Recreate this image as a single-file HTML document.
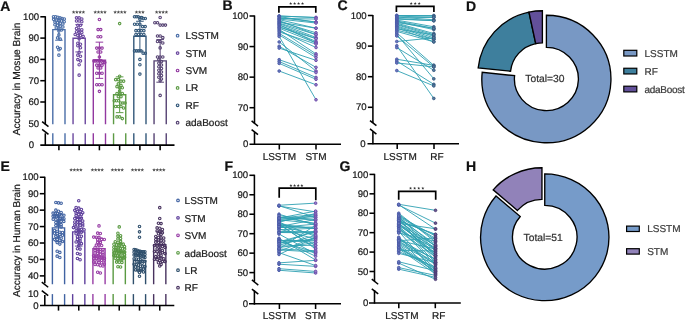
<!DOCTYPE html>
<html><head><meta charset="utf-8"><style>
html,body{margin:0;padding:0;background:#fff;width:685px;height:320px;overflow:hidden}
svg{display:block;font-family:"Liberation Sans", sans-serif;will-change:transform;text-rendering:geometricPrecision}
</style></head><body>
<svg xmlns="http://www.w3.org/2000/svg" width="685" height="320" viewBox="0 0 685 320">
<rect width="685" height="320" fill="#fff"/>
<text x="0.30" y="11.10" font-size="14" text-anchor="start" fill="#111" stroke="#111" stroke-width="0.22" font-weight="bold" >A</text>
<line x1="45.30" y1="16.20" x2="45.30" y2="124.30" stroke="#000" stroke-width="1.55" stroke-linecap="butt"/>
<line x1="45.30" y1="133.30" x2="45.30" y2="145.70" stroke="#000" stroke-width="1.55" stroke-linecap="butt"/>
<line x1="40.30" y1="16.80" x2="45.30" y2="16.80" stroke="#000" stroke-width="1.55" stroke-linecap="butt"/>
<text x="39.10" y="19.90" font-size="9.6" text-anchor="end" fill="#1a1a1a" stroke="#1a1a1a" stroke-width="0.22" font-weight="normal" >100</text>
<line x1="40.30" y1="38.10" x2="45.30" y2="38.10" stroke="#000" stroke-width="1.55" stroke-linecap="butt"/>
<text x="39.10" y="41.20" font-size="9.6" text-anchor="end" fill="#1a1a1a" stroke="#1a1a1a" stroke-width="0.22" font-weight="normal" >90</text>
<line x1="40.30" y1="59.40" x2="45.30" y2="59.40" stroke="#000" stroke-width="1.55" stroke-linecap="butt"/>
<text x="39.10" y="62.50" font-size="9.6" text-anchor="end" fill="#1a1a1a" stroke="#1a1a1a" stroke-width="0.22" font-weight="normal" >80</text>
<line x1="40.30" y1="80.70" x2="45.30" y2="80.70" stroke="#000" stroke-width="1.55" stroke-linecap="butt"/>
<text x="39.10" y="83.80" font-size="9.6" text-anchor="end" fill="#1a1a1a" stroke="#1a1a1a" stroke-width="0.22" font-weight="normal" >70</text>
<line x1="40.30" y1="102.00" x2="45.30" y2="102.00" stroke="#000" stroke-width="1.55" stroke-linecap="butt"/>
<text x="39.10" y="105.10" font-size="9.6" text-anchor="end" fill="#1a1a1a" stroke="#1a1a1a" stroke-width="0.22" font-weight="normal" >60</text>
<text x="39.10" y="126.60" font-size="9.6" text-anchor="end" fill="#1a1a1a" stroke="#1a1a1a" stroke-width="0.22" font-weight="normal" >50</text>
<text x="34.20" y="147.70" font-size="9.6" text-anchor="end" fill="#1a1a1a" stroke="#1a1a1a" stroke-width="0.22" font-weight="normal" >0</text>
<line x1="42.10" y1="121.55" x2="48.50" y2="126.65" stroke="#000" stroke-width="1.5" stroke-linecap="butt"/>
<line x1="42.10" y1="129.35" x2="48.50" y2="134.45" stroke="#000" stroke-width="1.5" stroke-linecap="butt"/>
<polyline points="52.80,124.30 52.80,29.58 65.00,29.58 65.00,124.30" fill="none" stroke="#4a6ea8" stroke-width="1.4"/>
<line x1="52.80" y1="133.30" x2="52.80" y2="145.10" stroke="#4a6ea8" stroke-width="1.4" stroke-linecap="butt"/>
<line x1="65.00" y1="133.30" x2="65.00" y2="145.10" stroke="#4a6ea8" stroke-width="1.4" stroke-linecap="butt"/>
<line x1="58.90" y1="18.93" x2="58.90" y2="40.23" stroke="#4a6ea8" stroke-width="1.0" stroke-linecap="butt"/>
<line x1="55.10" y1="18.93" x2="62.70" y2="18.93" stroke="#4a6ea8" stroke-width="1.0" stroke-linecap="butt"/>
<line x1="55.10" y1="40.23" x2="62.70" y2="40.23" stroke="#4a6ea8" stroke-width="1.0" stroke-linecap="butt"/>
<circle cx="53.50" cy="16.80" r="1.25" fill="none" stroke="#4a6ea8" stroke-width="1.1"/>
<circle cx="55.66" cy="16.80" r="1.25" fill="none" stroke="#4a6ea8" stroke-width="1.1"/>
<circle cx="57.82" cy="17.23" r="1.25" fill="none" stroke="#4a6ea8" stroke-width="1.1"/>
<circle cx="59.98" cy="17.87" r="1.25" fill="none" stroke="#4a6ea8" stroke-width="1.1"/>
<circle cx="62.14" cy="18.50" r="1.25" fill="none" stroke="#4a6ea8" stroke-width="1.1"/>
<circle cx="64.30" cy="18.93" r="1.25" fill="none" stroke="#4a6ea8" stroke-width="1.1"/>
<circle cx="53.60" cy="19.36" r="1.25" fill="none" stroke="#4a6ea8" stroke-width="1.1"/>
<circle cx="56.25" cy="20.00" r="1.25" fill="none" stroke="#4a6ea8" stroke-width="1.1"/>
<circle cx="58.90" cy="20.63" r="1.25" fill="none" stroke="#4a6ea8" stroke-width="1.1"/>
<circle cx="61.55" cy="21.06" r="1.25" fill="none" stroke="#4a6ea8" stroke-width="1.1"/>
<circle cx="64.20" cy="21.70" r="1.25" fill="none" stroke="#4a6ea8" stroke-width="1.1"/>
<circle cx="54.92" cy="22.12" r="1.25" fill="none" stroke="#4a6ea8" stroke-width="1.1"/>
<circle cx="57.57" cy="22.76" r="1.25" fill="none" stroke="#4a6ea8" stroke-width="1.1"/>
<circle cx="60.23" cy="23.19" r="1.25" fill="none" stroke="#4a6ea8" stroke-width="1.1"/>
<circle cx="62.88" cy="24.04" r="1.25" fill="none" stroke="#4a6ea8" stroke-width="1.1"/>
<circle cx="54.92" cy="24.68" r="1.25" fill="none" stroke="#4a6ea8" stroke-width="1.1"/>
<circle cx="57.57" cy="25.32" r="1.25" fill="none" stroke="#4a6ea8" stroke-width="1.1"/>
<circle cx="60.23" cy="26.17" r="1.25" fill="none" stroke="#4a6ea8" stroke-width="1.1"/>
<circle cx="62.88" cy="27.02" r="1.25" fill="none" stroke="#4a6ea8" stroke-width="1.1"/>
<circle cx="56.25" cy="27.88" r="1.25" fill="none" stroke="#4a6ea8" stroke-width="1.1"/>
<circle cx="58.90" cy="28.94" r="1.25" fill="none" stroke="#4a6ea8" stroke-width="1.1"/>
<circle cx="61.55" cy="30.01" r="1.25" fill="none" stroke="#4a6ea8" stroke-width="1.1"/>
<circle cx="58.90" cy="31.07" r="1.25" fill="none" stroke="#4a6ea8" stroke-width="1.1"/>
<circle cx="58.90" cy="34.91" r="1.25" fill="none" stroke="#4a6ea8" stroke-width="1.1"/>
<circle cx="57.57" cy="37.89" r="1.25" fill="none" stroke="#4a6ea8" stroke-width="1.1"/>
<circle cx="60.23" cy="39.16" r="1.25" fill="none" stroke="#4a6ea8" stroke-width="1.1"/>
<circle cx="57.57" cy="47.26" r="1.25" fill="none" stroke="#4a6ea8" stroke-width="1.1"/>
<circle cx="60.23" cy="48.54" r="1.25" fill="none" stroke="#4a6ea8" stroke-width="1.1"/>
<circle cx="58.90" cy="49.81" r="1.25" fill="none" stroke="#4a6ea8" stroke-width="1.1"/>
<circle cx="58.90" cy="55.14" r="1.25" fill="none" stroke="#4a6ea8" stroke-width="1.1"/>
<polyline points="73.05,124.30 73.05,38.31 85.25,38.31 85.25,124.30" fill="none" stroke="#6a479e" stroke-width="1.4"/>
<line x1="73.05" y1="133.30" x2="73.05" y2="145.10" stroke="#6a479e" stroke-width="1.4" stroke-linecap="butt"/>
<line x1="85.25" y1="133.30" x2="85.25" y2="145.10" stroke="#6a479e" stroke-width="1.4" stroke-linecap="butt"/>
<line x1="79.15" y1="24.68" x2="79.15" y2="51.94" stroke="#6a479e" stroke-width="1.0" stroke-linecap="butt"/>
<line x1="75.35" y1="24.68" x2="82.95" y2="24.68" stroke="#6a479e" stroke-width="1.0" stroke-linecap="butt"/>
<line x1="75.35" y1="51.94" x2="82.95" y2="51.94" stroke="#6a479e" stroke-width="1.0" stroke-linecap="butt"/>
<circle cx="76.50" cy="17.87" r="1.25" fill="none" stroke="#6a479e" stroke-width="1.1"/>
<circle cx="79.15" cy="17.87" r="1.25" fill="none" stroke="#6a479e" stroke-width="1.1"/>
<circle cx="81.80" cy="18.93" r="1.25" fill="none" stroke="#6a479e" stroke-width="1.1"/>
<circle cx="76.50" cy="21.06" r="1.25" fill="none" stroke="#6a479e" stroke-width="1.1"/>
<circle cx="79.15" cy="21.06" r="1.25" fill="none" stroke="#6a479e" stroke-width="1.1"/>
<circle cx="81.80" cy="21.70" r="1.25" fill="none" stroke="#6a479e" stroke-width="1.1"/>
<circle cx="77.83" cy="25.32" r="1.25" fill="none" stroke="#6a479e" stroke-width="1.1"/>
<circle cx="80.48" cy="25.32" r="1.25" fill="none" stroke="#6a479e" stroke-width="1.1"/>
<circle cx="76.50" cy="28.52" r="1.25" fill="none" stroke="#6a479e" stroke-width="1.1"/>
<circle cx="79.15" cy="29.79" r="1.25" fill="none" stroke="#6a479e" stroke-width="1.1"/>
<circle cx="81.80" cy="29.79" r="1.25" fill="none" stroke="#6a479e" stroke-width="1.1"/>
<circle cx="76.50" cy="31.71" r="1.25" fill="none" stroke="#6a479e" stroke-width="1.1"/>
<circle cx="79.15" cy="32.56" r="1.25" fill="none" stroke="#6a479e" stroke-width="1.1"/>
<circle cx="81.80" cy="32.56" r="1.25" fill="none" stroke="#6a479e" stroke-width="1.1"/>
<circle cx="75.18" cy="34.48" r="1.25" fill="none" stroke="#6a479e" stroke-width="1.1"/>
<circle cx="77.83" cy="35.54" r="1.25" fill="none" stroke="#6a479e" stroke-width="1.1"/>
<circle cx="80.48" cy="35.54" r="1.25" fill="none" stroke="#6a479e" stroke-width="1.1"/>
<circle cx="83.12" cy="36.40" r="1.25" fill="none" stroke="#6a479e" stroke-width="1.1"/>
<circle cx="79.15" cy="38.74" r="1.25" fill="none" stroke="#6a479e" stroke-width="1.1"/>
<circle cx="77.83" cy="43.21" r="1.25" fill="none" stroke="#6a479e" stroke-width="1.1"/>
<circle cx="80.48" cy="44.28" r="1.25" fill="none" stroke="#6a479e" stroke-width="1.1"/>
<circle cx="77.83" cy="45.77" r="1.25" fill="none" stroke="#6a479e" stroke-width="1.1"/>
<circle cx="80.48" cy="47.69" r="1.25" fill="none" stroke="#6a479e" stroke-width="1.1"/>
<circle cx="79.15" cy="52.58" r="1.25" fill="none" stroke="#6a479e" stroke-width="1.1"/>
<circle cx="77.83" cy="55.14" r="1.25" fill="none" stroke="#6a479e" stroke-width="1.1"/>
<circle cx="80.48" cy="56.20" r="1.25" fill="none" stroke="#6a479e" stroke-width="1.1"/>
<circle cx="77.83" cy="59.61" r="1.25" fill="none" stroke="#6a479e" stroke-width="1.1"/>
<circle cx="80.48" cy="60.89" r="1.25" fill="none" stroke="#6a479e" stroke-width="1.1"/>
<circle cx="79.15" cy="64.72" r="1.25" fill="none" stroke="#6a479e" stroke-width="1.1"/>
<circle cx="79.15" cy="75.16" r="1.25" fill="none" stroke="#6a479e" stroke-width="1.1"/>
<polyline points="93.30,124.30 93.30,60.25 105.50,60.25 105.50,124.30" fill="none" stroke="#9238a0" stroke-width="1.4"/>
<line x1="93.30" y1="133.30" x2="93.30" y2="145.10" stroke="#9238a0" stroke-width="1.4" stroke-linecap="butt"/>
<line x1="105.50" y1="133.30" x2="105.50" y2="145.10" stroke="#9238a0" stroke-width="1.4" stroke-linecap="butt"/>
<line x1="99.40" y1="42.15" x2="99.40" y2="78.36" stroke="#9238a0" stroke-width="1.0" stroke-linecap="butt"/>
<line x1="95.60" y1="42.15" x2="103.20" y2="42.15" stroke="#9238a0" stroke-width="1.0" stroke-linecap="butt"/>
<line x1="95.60" y1="78.36" x2="103.20" y2="78.36" stroke="#9238a0" stroke-width="1.0" stroke-linecap="butt"/>
<circle cx="99.40" cy="19.57" r="1.25" fill="none" stroke="#9238a0" stroke-width="1.1"/>
<circle cx="98.08" cy="29.58" r="1.25" fill="none" stroke="#9238a0" stroke-width="1.1"/>
<circle cx="100.73" cy="29.58" r="1.25" fill="none" stroke="#9238a0" stroke-width="1.1"/>
<circle cx="98.08" cy="36.82" r="1.25" fill="none" stroke="#9238a0" stroke-width="1.1"/>
<circle cx="100.73" cy="36.82" r="1.25" fill="none" stroke="#9238a0" stroke-width="1.1"/>
<circle cx="96.75" cy="48.11" r="1.25" fill="none" stroke="#9238a0" stroke-width="1.1"/>
<circle cx="99.40" cy="48.11" r="1.25" fill="none" stroke="#9238a0" stroke-width="1.1"/>
<circle cx="102.05" cy="48.11" r="1.25" fill="none" stroke="#9238a0" stroke-width="1.1"/>
<circle cx="98.08" cy="51.94" r="1.25" fill="none" stroke="#9238a0" stroke-width="1.1"/>
<circle cx="100.73" cy="51.94" r="1.25" fill="none" stroke="#9238a0" stroke-width="1.1"/>
<circle cx="99.40" cy="57.06" r="1.25" fill="none" stroke="#9238a0" stroke-width="1.1"/>
<circle cx="94.00" cy="60.89" r="1.25" fill="none" stroke="#9238a0" stroke-width="1.1"/>
<circle cx="95.80" cy="60.89" r="1.25" fill="none" stroke="#9238a0" stroke-width="1.1"/>
<circle cx="97.60" cy="60.89" r="1.25" fill="none" stroke="#9238a0" stroke-width="1.1"/>
<circle cx="99.40" cy="60.89" r="1.25" fill="none" stroke="#9238a0" stroke-width="1.1"/>
<circle cx="101.20" cy="60.89" r="1.25" fill="none" stroke="#9238a0" stroke-width="1.1"/>
<circle cx="103.00" cy="62.59" r="1.25" fill="none" stroke="#9238a0" stroke-width="1.1"/>
<circle cx="104.80" cy="62.59" r="1.25" fill="none" stroke="#9238a0" stroke-width="1.1"/>
<circle cx="96.75" cy="65.15" r="1.25" fill="none" stroke="#9238a0" stroke-width="1.1"/>
<circle cx="99.40" cy="65.15" r="1.25" fill="none" stroke="#9238a0" stroke-width="1.1"/>
<circle cx="102.05" cy="65.15" r="1.25" fill="none" stroke="#9238a0" stroke-width="1.1"/>
<circle cx="98.08" cy="67.92" r="1.25" fill="none" stroke="#9238a0" stroke-width="1.1"/>
<circle cx="100.73" cy="67.92" r="1.25" fill="none" stroke="#9238a0" stroke-width="1.1"/>
<circle cx="96.75" cy="73.25" r="1.25" fill="none" stroke="#9238a0" stroke-width="1.1"/>
<circle cx="99.40" cy="73.25" r="1.25" fill="none" stroke="#9238a0" stroke-width="1.1"/>
<circle cx="102.05" cy="73.25" r="1.25" fill="none" stroke="#9238a0" stroke-width="1.1"/>
<circle cx="96.75" cy="84.75" r="1.25" fill="none" stroke="#9238a0" stroke-width="1.1"/>
<circle cx="99.40" cy="84.75" r="1.25" fill="none" stroke="#9238a0" stroke-width="1.1"/>
<circle cx="102.05" cy="84.75" r="1.25" fill="none" stroke="#9238a0" stroke-width="1.1"/>
<circle cx="99.40" cy="91.35" r="1.25" fill="none" stroke="#9238a0" stroke-width="1.1"/>
<polyline points="113.55,124.30 113.55,94.76 125.75,94.76 125.75,124.30" fill="none" stroke="#5c9a44" stroke-width="1.4"/>
<line x1="113.55" y1="133.30" x2="113.55" y2="145.10" stroke="#5c9a44" stroke-width="1.4" stroke-linecap="butt"/>
<line x1="125.75" y1="133.30" x2="125.75" y2="145.10" stroke="#5c9a44" stroke-width="1.4" stroke-linecap="butt"/>
<line x1="119.65" y1="76.87" x2="119.65" y2="112.65" stroke="#5c9a44" stroke-width="1.0" stroke-linecap="butt"/>
<line x1="115.85" y1="76.87" x2="123.45" y2="76.87" stroke="#5c9a44" stroke-width="1.0" stroke-linecap="butt"/>
<line x1="115.85" y1="112.65" x2="123.45" y2="112.65" stroke="#5c9a44" stroke-width="1.0" stroke-linecap="butt"/>
<circle cx="119.65" cy="23.62" r="1.25" fill="none" stroke="#5c9a44" stroke-width="1.1"/>
<circle cx="119.65" cy="76.23" r="1.25" fill="none" stroke="#5c9a44" stroke-width="1.1"/>
<circle cx="115.68" cy="79.63" r="1.25" fill="none" stroke="#5c9a44" stroke-width="1.1"/>
<circle cx="118.33" cy="79.63" r="1.25" fill="none" stroke="#5c9a44" stroke-width="1.1"/>
<circle cx="120.98" cy="81.13" r="1.25" fill="none" stroke="#5c9a44" stroke-width="1.1"/>
<circle cx="123.62" cy="81.13" r="1.25" fill="none" stroke="#5c9a44" stroke-width="1.1"/>
<circle cx="118.33" cy="83.89" r="1.25" fill="none" stroke="#5c9a44" stroke-width="1.1"/>
<circle cx="120.98" cy="85.39" r="1.25" fill="none" stroke="#5c9a44" stroke-width="1.1"/>
<circle cx="117.00" cy="86.66" r="1.25" fill="none" stroke="#5c9a44" stroke-width="1.1"/>
<circle cx="119.65" cy="87.73" r="1.25" fill="none" stroke="#5c9a44" stroke-width="1.1"/>
<circle cx="122.30" cy="87.73" r="1.25" fill="none" stroke="#5c9a44" stroke-width="1.1"/>
<circle cx="119.65" cy="90.92" r="1.25" fill="none" stroke="#5c9a44" stroke-width="1.1"/>
<circle cx="117.00" cy="93.48" r="1.25" fill="none" stroke="#5c9a44" stroke-width="1.1"/>
<circle cx="119.65" cy="93.48" r="1.25" fill="none" stroke="#5c9a44" stroke-width="1.1"/>
<circle cx="122.30" cy="93.48" r="1.25" fill="none" stroke="#5c9a44" stroke-width="1.1"/>
<circle cx="118.33" cy="96.67" r="1.25" fill="none" stroke="#5c9a44" stroke-width="1.1"/>
<circle cx="120.98" cy="96.67" r="1.25" fill="none" stroke="#5c9a44" stroke-width="1.1"/>
<circle cx="114.25" cy="100.72" r="1.25" fill="none" stroke="#5c9a44" stroke-width="1.1"/>
<circle cx="116.41" cy="100.72" r="1.25" fill="none" stroke="#5c9a44" stroke-width="1.1"/>
<circle cx="118.57" cy="100.72" r="1.25" fill="none" stroke="#5c9a44" stroke-width="1.1"/>
<circle cx="120.73" cy="103.06" r="1.25" fill="none" stroke="#5c9a44" stroke-width="1.1"/>
<circle cx="122.89" cy="103.06" r="1.25" fill="none" stroke="#5c9a44" stroke-width="1.1"/>
<circle cx="125.05" cy="103.06" r="1.25" fill="none" stroke="#5c9a44" stroke-width="1.1"/>
<circle cx="115.68" cy="106.47" r="1.25" fill="none" stroke="#5c9a44" stroke-width="1.1"/>
<circle cx="118.33" cy="106.47" r="1.25" fill="none" stroke="#5c9a44" stroke-width="1.1"/>
<circle cx="120.98" cy="106.47" r="1.25" fill="none" stroke="#5c9a44" stroke-width="1.1"/>
<circle cx="123.62" cy="107.96" r="1.25" fill="none" stroke="#5c9a44" stroke-width="1.1"/>
<circle cx="117.00" cy="116.91" r="1.25" fill="none" stroke="#5c9a44" stroke-width="1.1"/>
<circle cx="119.65" cy="116.91" r="1.25" fill="none" stroke="#5c9a44" stroke-width="1.1"/>
<circle cx="122.30" cy="118.61" r="1.25" fill="none" stroke="#5c9a44" stroke-width="1.1"/>
<polyline points="133.80,124.30 133.80,36.18 146.00,36.18 146.00,124.30" fill="none" stroke="#33587a" stroke-width="1.4"/>
<line x1="133.80" y1="133.30" x2="133.80" y2="145.10" stroke="#33587a" stroke-width="1.4" stroke-linecap="butt"/>
<line x1="146.00" y1="133.30" x2="146.00" y2="145.10" stroke="#33587a" stroke-width="1.4" stroke-linecap="butt"/>
<line x1="139.90" y1="21.27" x2="139.90" y2="51.09" stroke="#33587a" stroke-width="1.0" stroke-linecap="butt"/>
<line x1="136.10" y1="21.27" x2="143.70" y2="21.27" stroke="#33587a" stroke-width="1.0" stroke-linecap="butt"/>
<line x1="136.10" y1="51.09" x2="143.70" y2="51.09" stroke="#33587a" stroke-width="1.0" stroke-linecap="butt"/>
<circle cx="134.50" cy="16.80" r="1.25" fill="none" stroke="#33587a" stroke-width="1.1"/>
<circle cx="136.30" cy="16.80" r="1.25" fill="none" stroke="#33587a" stroke-width="1.1"/>
<circle cx="138.10" cy="16.80" r="1.25" fill="none" stroke="#33587a" stroke-width="1.1"/>
<circle cx="139.90" cy="17.65" r="1.25" fill="none" stroke="#33587a" stroke-width="1.1"/>
<circle cx="141.70" cy="17.65" r="1.25" fill="none" stroke="#33587a" stroke-width="1.1"/>
<circle cx="143.50" cy="18.50" r="1.25" fill="none" stroke="#33587a" stroke-width="1.1"/>
<circle cx="145.30" cy="18.50" r="1.25" fill="none" stroke="#33587a" stroke-width="1.1"/>
<circle cx="139.90" cy="19.36" r="1.25" fill="none" stroke="#33587a" stroke-width="1.1"/>
<circle cx="134.60" cy="24.26" r="1.25" fill="none" stroke="#33587a" stroke-width="1.1"/>
<circle cx="137.25" cy="24.26" r="1.25" fill="none" stroke="#33587a" stroke-width="1.1"/>
<circle cx="139.90" cy="24.26" r="1.25" fill="none" stroke="#33587a" stroke-width="1.1"/>
<circle cx="142.55" cy="26.60" r="1.25" fill="none" stroke="#33587a" stroke-width="1.1"/>
<circle cx="145.20" cy="26.60" r="1.25" fill="none" stroke="#33587a" stroke-width="1.1"/>
<circle cx="135.93" cy="30.64" r="1.25" fill="none" stroke="#33587a" stroke-width="1.1"/>
<circle cx="138.58" cy="30.64" r="1.25" fill="none" stroke="#33587a" stroke-width="1.1"/>
<circle cx="141.22" cy="30.64" r="1.25" fill="none" stroke="#33587a" stroke-width="1.1"/>
<circle cx="143.88" cy="30.64" r="1.25" fill="none" stroke="#33587a" stroke-width="1.1"/>
<circle cx="135.93" cy="34.48" r="1.25" fill="none" stroke="#33587a" stroke-width="1.1"/>
<circle cx="138.58" cy="34.48" r="1.25" fill="none" stroke="#33587a" stroke-width="1.1"/>
<circle cx="141.22" cy="34.48" r="1.25" fill="none" stroke="#33587a" stroke-width="1.1"/>
<circle cx="143.88" cy="34.48" r="1.25" fill="none" stroke="#33587a" stroke-width="1.1"/>
<circle cx="134.50" cy="50.88" r="1.25" fill="none" stroke="#33587a" stroke-width="1.1"/>
<circle cx="136.66" cy="50.88" r="1.25" fill="none" stroke="#33587a" stroke-width="1.1"/>
<circle cx="138.82" cy="50.88" r="1.25" fill="none" stroke="#33587a" stroke-width="1.1"/>
<circle cx="140.98" cy="50.88" r="1.25" fill="none" stroke="#33587a" stroke-width="1.1"/>
<circle cx="143.14" cy="53.22" r="1.25" fill="none" stroke="#33587a" stroke-width="1.1"/>
<circle cx="145.30" cy="53.22" r="1.25" fill="none" stroke="#33587a" stroke-width="1.1"/>
<circle cx="139.90" cy="59.40" r="1.25" fill="none" stroke="#33587a" stroke-width="1.1"/>
<circle cx="139.90" cy="64.72" r="1.25" fill="none" stroke="#33587a" stroke-width="1.1"/>
<circle cx="139.90" cy="74.10" r="1.25" fill="none" stroke="#33587a" stroke-width="1.1"/>
<polyline points="154.05,124.30 154.05,60.89 166.25,60.89 166.25,124.30" fill="none" stroke="#564373" stroke-width="1.4"/>
<line x1="154.05" y1="133.30" x2="154.05" y2="145.10" stroke="#564373" stroke-width="1.4" stroke-linecap="butt"/>
<line x1="166.25" y1="133.30" x2="166.25" y2="145.10" stroke="#564373" stroke-width="1.4" stroke-linecap="butt"/>
<line x1="160.15" y1="39.59" x2="160.15" y2="82.19" stroke="#564373" stroke-width="1.0" stroke-linecap="butt"/>
<line x1="156.35" y1="39.59" x2="163.95" y2="39.59" stroke="#564373" stroke-width="1.0" stroke-linecap="butt"/>
<line x1="156.35" y1="82.19" x2="163.95" y2="82.19" stroke="#564373" stroke-width="1.0" stroke-linecap="butt"/>
<circle cx="160.15" cy="17.44" r="1.25" fill="none" stroke="#564373" stroke-width="1.1"/>
<circle cx="154.85" cy="22.76" r="1.25" fill="none" stroke="#564373" stroke-width="1.1"/>
<circle cx="157.50" cy="22.76" r="1.25" fill="none" stroke="#564373" stroke-width="1.1"/>
<circle cx="160.15" cy="25.11" r="1.25" fill="none" stroke="#564373" stroke-width="1.1"/>
<circle cx="162.80" cy="25.11" r="1.25" fill="none" stroke="#564373" stroke-width="1.1"/>
<circle cx="165.45" cy="25.11" r="1.25" fill="none" stroke="#564373" stroke-width="1.1"/>
<circle cx="157.50" cy="35.97" r="1.25" fill="none" stroke="#564373" stroke-width="1.1"/>
<circle cx="160.15" cy="35.97" r="1.25" fill="none" stroke="#564373" stroke-width="1.1"/>
<circle cx="162.80" cy="37.67" r="1.25" fill="none" stroke="#564373" stroke-width="1.1"/>
<circle cx="157.50" cy="41.51" r="1.25" fill="none" stroke="#564373" stroke-width="1.1"/>
<circle cx="160.15" cy="41.51" r="1.25" fill="none" stroke="#564373" stroke-width="1.1"/>
<circle cx="162.80" cy="43.00" r="1.25" fill="none" stroke="#564373" stroke-width="1.1"/>
<circle cx="160.15" cy="47.90" r="1.25" fill="none" stroke="#564373" stroke-width="1.1"/>
<circle cx="157.50" cy="57.06" r="1.25" fill="none" stroke="#564373" stroke-width="1.1"/>
<circle cx="160.15" cy="57.06" r="1.25" fill="none" stroke="#564373" stroke-width="1.1"/>
<circle cx="162.80" cy="57.06" r="1.25" fill="none" stroke="#564373" stroke-width="1.1"/>
<circle cx="158.83" cy="59.83" r="1.25" fill="none" stroke="#564373" stroke-width="1.1"/>
<circle cx="161.47" cy="61.57" r="1.25" fill="none" stroke="#564373" stroke-width="1.1"/>
<circle cx="158.83" cy="63.31" r="1.25" fill="none" stroke="#564373" stroke-width="1.1"/>
<circle cx="161.47" cy="65.04" r="1.25" fill="none" stroke="#564373" stroke-width="1.1"/>
<circle cx="158.83" cy="66.78" r="1.25" fill="none" stroke="#564373" stroke-width="1.1"/>
<circle cx="161.47" cy="68.52" r="1.25" fill="none" stroke="#564373" stroke-width="1.1"/>
<circle cx="158.83" cy="70.26" r="1.25" fill="none" stroke="#564373" stroke-width="1.1"/>
<circle cx="161.47" cy="72.00" r="1.25" fill="none" stroke="#564373" stroke-width="1.1"/>
<circle cx="158.83" cy="73.74" r="1.25" fill="none" stroke="#564373" stroke-width="1.1"/>
<circle cx="161.47" cy="75.48" r="1.25" fill="none" stroke="#564373" stroke-width="1.1"/>
<circle cx="158.83" cy="77.22" r="1.25" fill="none" stroke="#564373" stroke-width="1.1"/>
<circle cx="161.47" cy="78.96" r="1.25" fill="none" stroke="#564373" stroke-width="1.1"/>
<circle cx="160.15" cy="80.70" r="1.25" fill="none" stroke="#564373" stroke-width="1.1"/>
<circle cx="160.15" cy="95.40" r="1.25" fill="none" stroke="#564373" stroke-width="1.1"/>
<line x1="40.30" y1="145.10" x2="174.50" y2="145.10" stroke="#000" stroke-width="1.55" stroke-linecap="butt"/>
<line x1="58.90" y1="145.10" x2="58.90" y2="150.30" stroke="#000" stroke-width="1.55" stroke-linecap="butt"/>
<line x1="79.15" y1="145.10" x2="79.15" y2="150.30" stroke="#000" stroke-width="1.55" stroke-linecap="butt"/>
<line x1="99.40" y1="145.10" x2="99.40" y2="150.30" stroke="#000" stroke-width="1.55" stroke-linecap="butt"/>
<line x1="119.65" y1="145.10" x2="119.65" y2="150.30" stroke="#000" stroke-width="1.55" stroke-linecap="butt"/>
<line x1="139.90" y1="145.10" x2="139.90" y2="150.30" stroke="#000" stroke-width="1.55" stroke-linecap="butt"/>
<line x1="160.15" y1="145.10" x2="160.15" y2="150.30" stroke="#000" stroke-width="1.55" stroke-linecap="butt"/>
<polygon points="73.62,10.20 74.12,11.46 75.48,11.55 74.43,12.41 74.77,13.73 73.62,13.00 72.48,13.73 72.82,12.41 71.77,11.55 73.13,11.46" fill="#505050"/>
<polygon points="76.88,10.20 77.37,11.46 78.73,11.55 77.68,12.41 78.02,13.73 76.88,13.00 75.73,13.73 76.07,12.41 75.02,11.55 76.38,11.46" fill="#505050"/>
<polygon points="80.12,10.20 80.62,11.46 81.98,11.55 80.93,12.41 81.27,13.73 80.12,13.00 78.98,13.73 79.32,12.41 78.27,11.55 79.63,11.46" fill="#505050"/>
<polygon points="83.38,10.20 83.87,11.46 85.23,11.55 84.18,12.41 84.52,13.73 83.38,13.00 82.23,13.73 82.57,12.41 81.52,11.55 82.88,11.46" fill="#505050"/>
<polygon points="95.22,10.20 95.72,11.46 97.08,11.55 96.03,12.41 96.37,13.73 95.22,13.00 94.08,13.73 94.42,12.41 93.37,11.55 94.73,11.46" fill="#505050"/>
<polygon points="98.47,10.20 98.97,11.46 100.33,11.55 99.28,12.41 99.62,13.73 98.47,13.00 97.33,13.73 97.67,12.41 96.62,11.55 97.98,11.46" fill="#505050"/>
<polygon points="101.72,10.20 102.22,11.46 103.58,11.55 102.53,12.41 102.87,13.73 101.72,13.00 100.58,13.73 100.92,12.41 99.87,11.55 101.23,11.46" fill="#505050"/>
<polygon points="104.97,10.20 105.47,11.46 106.83,11.55 105.78,12.41 106.12,13.73 104.97,13.00 103.83,13.73 104.17,12.41 103.12,11.55 104.48,11.46" fill="#505050"/>
<polygon points="115.12,10.20 115.62,11.46 116.98,11.55 115.93,12.41 116.27,13.73 115.12,13.00 113.98,13.73 114.32,12.41 113.27,11.55 114.63,11.46" fill="#505050"/>
<polygon points="118.38,10.20 118.87,11.46 120.23,11.55 119.18,12.41 119.52,13.73 118.38,13.00 117.23,13.73 117.57,12.41 116.52,11.55 117.88,11.46" fill="#505050"/>
<polygon points="121.62,10.20 122.12,11.46 123.48,11.55 122.43,12.41 122.77,13.73 121.62,13.00 120.48,13.73 120.82,12.41 119.77,11.55 121.13,11.46" fill="#505050"/>
<polygon points="124.88,10.20 125.37,11.46 126.73,11.55 125.68,12.41 126.02,13.73 124.88,13.00 123.73,13.73 124.07,12.41 123.02,11.55 124.38,11.46" fill="#505050"/>
<polygon points="136.45,10.20 136.95,11.46 138.30,11.55 137.26,12.41 137.60,13.73 136.45,13.00 135.30,13.73 135.64,12.41 134.60,11.55 135.95,11.46" fill="#505050"/>
<polygon points="139.70,10.20 140.20,11.46 141.55,11.55 140.51,12.41 140.85,13.73 139.70,13.00 138.55,13.73 138.89,12.41 137.85,11.55 139.20,11.46" fill="#505050"/>
<polygon points="142.95,10.20 143.45,11.46 144.80,11.55 143.76,12.41 144.10,13.73 142.95,13.00 141.80,13.73 142.14,12.41 141.10,11.55 142.45,11.46" fill="#505050"/>
<polygon points="156.62,10.20 157.12,11.46 158.48,11.55 157.43,12.41 157.77,13.73 156.62,13.00 155.48,13.73 155.82,12.41 154.77,11.55 156.13,11.46" fill="#505050"/>
<polygon points="159.88,10.20 160.37,11.46 161.73,11.55 160.68,12.41 161.02,13.73 159.88,13.00 158.73,13.73 159.07,12.41 158.02,11.55 159.38,11.46" fill="#505050"/>
<polygon points="163.12,10.20 163.62,11.46 164.98,11.55 163.93,12.41 164.27,13.73 163.12,13.00 161.98,13.73 162.32,12.41 161.27,11.55 162.63,11.46" fill="#505050"/>
<polygon points="166.38,10.20 166.87,11.46 168.23,11.55 167.18,12.41 167.52,13.73 166.38,13.00 165.23,13.73 165.57,12.41 164.52,11.55 165.88,11.46" fill="#505050"/>
<circle cx="177.60" cy="35.70" r="1.3" fill="none" stroke="#4a6ea8" stroke-width="1.15"/>
<text x="185.50" y="39.20" font-size="10" text-anchor="start" fill="#1a1a1a" stroke="#1a1a1a" stroke-width="0.22" font-weight="normal" >LSSTM</text>
<circle cx="177.60" cy="53.10" r="1.3" fill="none" stroke="#6a479e" stroke-width="1.15"/>
<text x="185.50" y="56.60" font-size="10" text-anchor="start" fill="#1a1a1a" stroke="#1a1a1a" stroke-width="0.22" font-weight="normal" >STM</text>
<circle cx="177.60" cy="70.50" r="1.3" fill="none" stroke="#9238a0" stroke-width="1.15"/>
<text x="185.50" y="74.00" font-size="10" text-anchor="start" fill="#1a1a1a" stroke="#1a1a1a" stroke-width="0.22" font-weight="normal" >SVM</text>
<circle cx="177.60" cy="87.90" r="1.3" fill="none" stroke="#5c9a44" stroke-width="1.15"/>
<text x="185.50" y="91.40" font-size="10" text-anchor="start" fill="#1a1a1a" stroke="#1a1a1a" stroke-width="0.22" font-weight="normal" >LR</text>
<circle cx="177.60" cy="105.30" r="1.3" fill="none" stroke="#33587a" stroke-width="1.15"/>
<text x="185.50" y="108.80" font-size="10" text-anchor="start" fill="#1a1a1a" stroke="#1a1a1a" stroke-width="0.22" font-weight="normal" >RF</text>
<circle cx="177.60" cy="122.70" r="1.3" fill="none" stroke="#564373" stroke-width="1.15"/>
<text x="185.50" y="126.20" font-size="10" text-anchor="start" fill="#1a1a1a" stroke="#1a1a1a" stroke-width="0.22" font-weight="normal" >adaBoost</text>
<text x="19.60" y="79.00" font-size="10.2" text-anchor="middle" fill="#1a1a1a" stroke="#1a1a1a" stroke-width="0.22" font-weight="normal" transform="rotate(-90 19.6 79)">Accuracy in Mosue Brain</text>
<text x="222.40" y="10.00" font-size="14" text-anchor="start" fill="#111" stroke="#111" stroke-width="0.22" font-weight="bold" >B</text>
<line x1="254.50" y1="15.40" x2="254.50" y2="123.40" stroke="#000" stroke-width="1.55" stroke-linecap="butt"/>
<line x1="254.50" y1="132.20" x2="254.50" y2="144.90" stroke="#000" stroke-width="1.55" stroke-linecap="butt"/>
<line x1="249.50" y1="16.00" x2="254.50" y2="16.00" stroke="#000" stroke-width="1.55" stroke-linecap="butt"/>
<text x="248.30" y="19.10" font-size="9.6" text-anchor="end" fill="#1a1a1a" stroke="#1a1a1a" stroke-width="0.22" font-weight="normal" >100</text>
<line x1="249.50" y1="46.57" x2="254.50" y2="46.57" stroke="#000" stroke-width="1.55" stroke-linecap="butt"/>
<text x="248.30" y="49.67" font-size="9.6" text-anchor="end" fill="#1a1a1a" stroke="#1a1a1a" stroke-width="0.22" font-weight="normal" >90</text>
<line x1="249.50" y1="77.14" x2="254.50" y2="77.14" stroke="#000" stroke-width="1.55" stroke-linecap="butt"/>
<text x="248.30" y="80.24" font-size="9.6" text-anchor="end" fill="#1a1a1a" stroke="#1a1a1a" stroke-width="0.22" font-weight="normal" >80</text>
<line x1="249.50" y1="107.71" x2="254.50" y2="107.71" stroke="#000" stroke-width="1.55" stroke-linecap="butt"/>
<text x="248.30" y="110.81" font-size="9.6" text-anchor="end" fill="#1a1a1a" stroke="#1a1a1a" stroke-width="0.22" font-weight="normal" >70</text>
<text x="248.30" y="147.40" font-size="9.6" text-anchor="end" fill="#1a1a1a" stroke="#1a1a1a" stroke-width="0.22" font-weight="normal" >0</text>
<line x1="251.60" y1="120.95" x2="258.00" y2="126.05" stroke="#000" stroke-width="1.5" stroke-linecap="butt"/>
<line x1="251.60" y1="129.55" x2="258.00" y2="134.65" stroke="#000" stroke-width="1.5" stroke-linecap="butt"/>
<line x1="249.50" y1="144.30" x2="341.00" y2="144.30" stroke="#000" stroke-width="1.55" stroke-linecap="butt"/>
<line x1="279.30" y1="144.30" x2="279.30" y2="149.50" stroke="#000" stroke-width="1.55" stroke-linecap="butt"/>
<line x1="316.00" y1="144.30" x2="316.00" y2="149.50" stroke="#000" stroke-width="1.55" stroke-linecap="butt"/>
<text x="279.30" y="160.10" font-size="10" text-anchor="middle" fill="#1a1a1a" stroke="#1a1a1a" stroke-width="0.22" font-weight="normal" >LSSTM</text>
<text x="316.00" y="160.10" font-size="10" text-anchor="middle" fill="#1a1a1a" stroke="#1a1a1a" stroke-width="0.22" font-weight="normal" >STM</text>
<line x1="279.20" y1="16.00" x2="316.00" y2="17.53" stroke="#2fa0b2" stroke-width="0.9" stroke-linecap="butt"/>
<line x1="279.20" y1="16.00" x2="316.00" y2="17.53" stroke="#2fa0b2" stroke-width="0.9" stroke-linecap="butt"/>
<line x1="279.20" y1="16.61" x2="316.00" y2="22.11" stroke="#2fa0b2" stroke-width="0.9" stroke-linecap="butt"/>
<line x1="279.20" y1="17.53" x2="316.00" y2="22.11" stroke="#2fa0b2" stroke-width="0.9" stroke-linecap="butt"/>
<line x1="279.20" y1="18.45" x2="316.00" y2="19.06" stroke="#2fa0b2" stroke-width="0.9" stroke-linecap="butt"/>
<line x1="279.20" y1="19.06" x2="316.00" y2="23.03" stroke="#2fa0b2" stroke-width="0.9" stroke-linecap="butt"/>
<line x1="279.20" y1="19.67" x2="316.00" y2="28.23" stroke="#2fa0b2" stroke-width="0.9" stroke-linecap="butt"/>
<line x1="279.20" y1="20.59" x2="316.00" y2="34.65" stroke="#2fa0b2" stroke-width="0.9" stroke-linecap="butt"/>
<line x1="279.20" y1="21.50" x2="316.00" y2="32.81" stroke="#2fa0b2" stroke-width="0.9" stroke-linecap="butt"/>
<line x1="279.20" y1="22.11" x2="316.00" y2="28.23" stroke="#2fa0b2" stroke-width="0.9" stroke-linecap="butt"/>
<line x1="279.20" y1="23.03" x2="316.00" y2="34.65" stroke="#2fa0b2" stroke-width="0.9" stroke-linecap="butt"/>
<line x1="279.20" y1="23.64" x2="316.00" y2="37.40" stroke="#2fa0b2" stroke-width="0.9" stroke-linecap="butt"/>
<line x1="279.20" y1="24.56" x2="316.00" y2="42.90" stroke="#2fa0b2" stroke-width="0.9" stroke-linecap="butt"/>
<line x1="279.20" y1="25.17" x2="316.00" y2="38.62" stroke="#2fa0b2" stroke-width="0.9" stroke-linecap="butt"/>
<line x1="279.20" y1="26.39" x2="316.00" y2="41.37" stroke="#2fa0b2" stroke-width="0.9" stroke-linecap="butt"/>
<line x1="279.20" y1="27.31" x2="316.00" y2="38.62" stroke="#2fa0b2" stroke-width="0.9" stroke-linecap="butt"/>
<line x1="279.20" y1="28.23" x2="316.00" y2="42.90" stroke="#2fa0b2" stroke-width="0.9" stroke-linecap="butt"/>
<line x1="279.20" y1="29.45" x2="316.00" y2="53.91" stroke="#2fa0b2" stroke-width="0.9" stroke-linecap="butt"/>
<line x1="279.20" y1="30.67" x2="316.00" y2="47.49" stroke="#2fa0b2" stroke-width="0.9" stroke-linecap="butt"/>
<line x1="279.20" y1="31.90" x2="316.00" y2="44.12" stroke="#2fa0b2" stroke-width="0.9" stroke-linecap="butt"/>
<line x1="279.20" y1="33.42" x2="316.00" y2="55.44" stroke="#2fa0b2" stroke-width="0.9" stroke-linecap="butt"/>
<line x1="279.20" y1="34.95" x2="316.00" y2="57.58" stroke="#2fa0b2" stroke-width="0.9" stroke-linecap="butt"/>
<line x1="279.20" y1="36.48" x2="316.00" y2="99.76" stroke="#2fa0b2" stroke-width="0.9" stroke-linecap="butt"/>
<line x1="279.20" y1="41.98" x2="316.00" y2="71.03" stroke="#2fa0b2" stroke-width="0.9" stroke-linecap="butt"/>
<line x1="279.20" y1="46.26" x2="316.00" y2="67.36" stroke="#2fa0b2" stroke-width="0.9" stroke-linecap="butt"/>
<line x1="279.20" y1="48.10" x2="316.00" y2="60.33" stroke="#2fa0b2" stroke-width="0.9" stroke-linecap="butt"/>
<line x1="279.20" y1="59.72" x2="316.00" y2="72.55" stroke="#2fa0b2" stroke-width="0.9" stroke-linecap="butt"/>
<line x1="279.20" y1="61.55" x2="316.00" y2="77.45" stroke="#2fa0b2" stroke-width="0.9" stroke-linecap="butt"/>
<line x1="279.20" y1="63.38" x2="316.00" y2="79.28" stroke="#2fa0b2" stroke-width="0.9" stroke-linecap="butt"/>
<line x1="279.20" y1="71.03" x2="316.00" y2="84.78" stroke="#2fa0b2" stroke-width="0.9" stroke-linecap="butt"/>
<circle cx="279.20" cy="16.00" r="1.35" fill="#6a78bc" stroke="#4858a6" stroke-width="0.9"/>
<circle cx="279.20" cy="16.00" r="1.35" fill="#6a78bc" stroke="#4858a6" stroke-width="0.9"/>
<circle cx="279.20" cy="16.61" r="1.35" fill="#6a78bc" stroke="#4858a6" stroke-width="0.9"/>
<circle cx="279.20" cy="17.53" r="1.35" fill="#6a78bc" stroke="#4858a6" stroke-width="0.9"/>
<circle cx="279.20" cy="18.45" r="1.35" fill="#6a78bc" stroke="#4858a6" stroke-width="0.9"/>
<circle cx="279.20" cy="19.06" r="1.35" fill="#6a78bc" stroke="#4858a6" stroke-width="0.9"/>
<circle cx="279.20" cy="19.67" r="1.35" fill="#6a78bc" stroke="#4858a6" stroke-width="0.9"/>
<circle cx="279.20" cy="20.59" r="1.35" fill="#6a78bc" stroke="#4858a6" stroke-width="0.9"/>
<circle cx="279.20" cy="21.50" r="1.35" fill="#6a78bc" stroke="#4858a6" stroke-width="0.9"/>
<circle cx="279.20" cy="22.11" r="1.35" fill="#6a78bc" stroke="#4858a6" stroke-width="0.9"/>
<circle cx="279.20" cy="23.03" r="1.35" fill="#6a78bc" stroke="#4858a6" stroke-width="0.9"/>
<circle cx="279.20" cy="23.64" r="1.35" fill="#6a78bc" stroke="#4858a6" stroke-width="0.9"/>
<circle cx="279.20" cy="24.56" r="1.35" fill="#6a78bc" stroke="#4858a6" stroke-width="0.9"/>
<circle cx="279.20" cy="25.17" r="1.35" fill="#6a78bc" stroke="#4858a6" stroke-width="0.9"/>
<circle cx="279.20" cy="26.39" r="1.35" fill="#6a78bc" stroke="#4858a6" stroke-width="0.9"/>
<circle cx="279.20" cy="27.31" r="1.35" fill="#6a78bc" stroke="#4858a6" stroke-width="0.9"/>
<circle cx="279.20" cy="28.23" r="1.35" fill="#6a78bc" stroke="#4858a6" stroke-width="0.9"/>
<circle cx="279.20" cy="29.45" r="1.35" fill="#6a78bc" stroke="#4858a6" stroke-width="0.9"/>
<circle cx="279.20" cy="30.67" r="1.35" fill="#6a78bc" stroke="#4858a6" stroke-width="0.9"/>
<circle cx="279.20" cy="31.90" r="1.35" fill="#6a78bc" stroke="#4858a6" stroke-width="0.9"/>
<circle cx="279.20" cy="33.42" r="1.35" fill="#6a78bc" stroke="#4858a6" stroke-width="0.9"/>
<circle cx="279.20" cy="34.95" r="1.35" fill="#6a78bc" stroke="#4858a6" stroke-width="0.9"/>
<circle cx="279.20" cy="36.48" r="1.35" fill="#6a78bc" stroke="#4858a6" stroke-width="0.9"/>
<circle cx="279.20" cy="41.98" r="1.35" fill="#6a78bc" stroke="#4858a6" stroke-width="0.9"/>
<circle cx="279.20" cy="46.26" r="1.35" fill="#6a78bc" stroke="#4858a6" stroke-width="0.9"/>
<circle cx="279.20" cy="48.10" r="1.35" fill="#6a78bc" stroke="#4858a6" stroke-width="0.9"/>
<circle cx="279.20" cy="59.72" r="1.35" fill="#6a78bc" stroke="#4858a6" stroke-width="0.9"/>
<circle cx="279.20" cy="61.55" r="1.35" fill="#6a78bc" stroke="#4858a6" stroke-width="0.9"/>
<circle cx="279.20" cy="63.38" r="1.35" fill="#6a78bc" stroke="#4858a6" stroke-width="0.9"/>
<circle cx="279.20" cy="71.03" r="1.35" fill="#6a78bc" stroke="#4858a6" stroke-width="0.9"/>
<circle cx="316.00" cy="17.53" r="1.35" fill="#9680c8" stroke="#6a4aa8" stroke-width="0.9"/>
<circle cx="316.00" cy="17.53" r="1.35" fill="#9680c8" stroke="#6a4aa8" stroke-width="0.9"/>
<circle cx="316.00" cy="22.11" r="1.35" fill="#9680c8" stroke="#6a4aa8" stroke-width="0.9"/>
<circle cx="316.00" cy="22.11" r="1.35" fill="#9680c8" stroke="#6a4aa8" stroke-width="0.9"/>
<circle cx="316.00" cy="19.06" r="1.35" fill="#9680c8" stroke="#6a4aa8" stroke-width="0.9"/>
<circle cx="316.00" cy="23.03" r="1.35" fill="#9680c8" stroke="#6a4aa8" stroke-width="0.9"/>
<circle cx="316.00" cy="28.23" r="1.35" fill="#9680c8" stroke="#6a4aa8" stroke-width="0.9"/>
<circle cx="316.00" cy="34.65" r="1.35" fill="#9680c8" stroke="#6a4aa8" stroke-width="0.9"/>
<circle cx="316.00" cy="32.81" r="1.35" fill="#9680c8" stroke="#6a4aa8" stroke-width="0.9"/>
<circle cx="316.00" cy="28.23" r="1.35" fill="#9680c8" stroke="#6a4aa8" stroke-width="0.9"/>
<circle cx="316.00" cy="34.65" r="1.35" fill="#9680c8" stroke="#6a4aa8" stroke-width="0.9"/>
<circle cx="316.00" cy="37.40" r="1.35" fill="#9680c8" stroke="#6a4aa8" stroke-width="0.9"/>
<circle cx="316.00" cy="42.90" r="1.35" fill="#9680c8" stroke="#6a4aa8" stroke-width="0.9"/>
<circle cx="316.00" cy="38.62" r="1.35" fill="#9680c8" stroke="#6a4aa8" stroke-width="0.9"/>
<circle cx="316.00" cy="41.37" r="1.35" fill="#9680c8" stroke="#6a4aa8" stroke-width="0.9"/>
<circle cx="316.00" cy="38.62" r="1.35" fill="#9680c8" stroke="#6a4aa8" stroke-width="0.9"/>
<circle cx="316.00" cy="42.90" r="1.35" fill="#9680c8" stroke="#6a4aa8" stroke-width="0.9"/>
<circle cx="316.00" cy="53.91" r="1.35" fill="#9680c8" stroke="#6a4aa8" stroke-width="0.9"/>
<circle cx="316.00" cy="47.49" r="1.35" fill="#9680c8" stroke="#6a4aa8" stroke-width="0.9"/>
<circle cx="316.00" cy="44.12" r="1.35" fill="#9680c8" stroke="#6a4aa8" stroke-width="0.9"/>
<circle cx="316.00" cy="55.44" r="1.35" fill="#9680c8" stroke="#6a4aa8" stroke-width="0.9"/>
<circle cx="316.00" cy="57.58" r="1.35" fill="#9680c8" stroke="#6a4aa8" stroke-width="0.9"/>
<circle cx="316.00" cy="99.76" r="1.35" fill="#9680c8" stroke="#6a4aa8" stroke-width="0.9"/>
<circle cx="316.00" cy="71.03" r="1.35" fill="#9680c8" stroke="#6a4aa8" stroke-width="0.9"/>
<circle cx="316.00" cy="67.36" r="1.35" fill="#9680c8" stroke="#6a4aa8" stroke-width="0.9"/>
<circle cx="316.00" cy="60.33" r="1.35" fill="#9680c8" stroke="#6a4aa8" stroke-width="0.9"/>
<circle cx="316.00" cy="72.55" r="1.35" fill="#9680c8" stroke="#6a4aa8" stroke-width="0.9"/>
<circle cx="316.00" cy="77.45" r="1.35" fill="#9680c8" stroke="#6a4aa8" stroke-width="0.9"/>
<circle cx="316.00" cy="79.28" r="1.35" fill="#9680c8" stroke="#6a4aa8" stroke-width="0.9"/>
<circle cx="316.00" cy="84.78" r="1.35" fill="#9680c8" stroke="#6a4aa8" stroke-width="0.9"/>
<polyline points="278.90,12.80 278.90,6.90 315.80,6.90 315.80,12.80" fill="none" stroke="#000" stroke-width="1.7"/>
<polygon points="290.68,1.95 291.09,2.98 292.20,3.06 291.34,3.77 291.62,4.84 290.68,4.25 289.73,4.84 290.01,3.77 289.15,3.06 290.26,2.98" fill="#333"/>
<polygon points="294.62,1.95 295.04,2.98 296.15,3.06 295.29,3.77 295.57,4.84 294.62,4.25 293.68,4.84 293.96,3.77 293.10,3.06 294.21,2.98" fill="#333"/>
<polygon points="298.57,1.95 298.99,2.98 300.10,3.06 299.24,3.77 299.52,4.84 298.57,4.25 297.63,4.84 297.91,3.77 297.05,3.06 298.16,2.98" fill="#333"/>
<polygon points="302.53,1.95 302.94,2.98 304.05,3.06 303.19,3.77 303.47,4.84 302.53,4.25 301.58,4.84 301.86,3.77 301.00,3.06 302.11,2.98" fill="#333"/>
<text x="337.50" y="10.40" font-size="14" text-anchor="start" fill="#111" stroke="#111" stroke-width="0.22" font-weight="bold" >C</text>
<line x1="372.90" y1="14.90" x2="372.90" y2="123.00" stroke="#000" stroke-width="1.55" stroke-linecap="butt"/>
<line x1="372.90" y1="131.80" x2="372.90" y2="144.30" stroke="#000" stroke-width="1.55" stroke-linecap="butt"/>
<line x1="367.90" y1="15.50" x2="372.90" y2="15.50" stroke="#000" stroke-width="1.55" stroke-linecap="butt"/>
<text x="366.70" y="18.60" font-size="9.6" text-anchor="end" fill="#1a1a1a" stroke="#1a1a1a" stroke-width="0.22" font-weight="normal" >100</text>
<line x1="367.90" y1="46.10" x2="372.90" y2="46.10" stroke="#000" stroke-width="1.55" stroke-linecap="butt"/>
<text x="366.70" y="49.20" font-size="9.6" text-anchor="end" fill="#1a1a1a" stroke="#1a1a1a" stroke-width="0.22" font-weight="normal" >90</text>
<line x1="367.90" y1="76.70" x2="372.90" y2="76.70" stroke="#000" stroke-width="1.55" stroke-linecap="butt"/>
<text x="366.70" y="79.80" font-size="9.6" text-anchor="end" fill="#1a1a1a" stroke="#1a1a1a" stroke-width="0.22" font-weight="normal" >80</text>
<line x1="367.90" y1="107.30" x2="372.90" y2="107.30" stroke="#000" stroke-width="1.55" stroke-linecap="butt"/>
<text x="366.70" y="110.40" font-size="9.6" text-anchor="end" fill="#1a1a1a" stroke="#1a1a1a" stroke-width="0.22" font-weight="normal" >70</text>
<text x="365.70" y="147.00" font-size="9.6" text-anchor="end" fill="#1a1a1a" stroke="#1a1a1a" stroke-width="0.22" font-weight="normal" >0</text>
<line x1="370.00" y1="120.55" x2="376.40" y2="125.65" stroke="#000" stroke-width="1.5" stroke-linecap="butt"/>
<line x1="370.00" y1="128.95" x2="376.40" y2="134.05" stroke="#000" stroke-width="1.5" stroke-linecap="butt"/>
<line x1="367.50" y1="143.70" x2="459.00" y2="143.70" stroke="#000" stroke-width="1.55" stroke-linecap="butt"/>
<line x1="397.20" y1="143.70" x2="397.20" y2="148.90" stroke="#000" stroke-width="1.55" stroke-linecap="butt"/>
<line x1="434.00" y1="143.70" x2="434.00" y2="148.90" stroke="#000" stroke-width="1.55" stroke-linecap="butt"/>
<text x="400.10" y="159.80" font-size="10" text-anchor="middle" fill="#1a1a1a" stroke="#1a1a1a" stroke-width="0.22" font-weight="normal" >LSSTM</text>
<text x="437.00" y="159.80" font-size="10" text-anchor="middle" fill="#1a1a1a" stroke="#1a1a1a" stroke-width="0.22" font-weight="normal" >RF</text>
<line x1="396.80" y1="15.50" x2="433.80" y2="15.50" stroke="#2fa0b2" stroke-width="0.9" stroke-linecap="butt"/>
<line x1="396.80" y1="15.50" x2="433.80" y2="16.11" stroke="#2fa0b2" stroke-width="0.9" stroke-linecap="butt"/>
<line x1="396.80" y1="16.11" x2="433.80" y2="17.34" stroke="#2fa0b2" stroke-width="0.9" stroke-linecap="butt"/>
<line x1="396.80" y1="17.03" x2="433.80" y2="19.78" stroke="#2fa0b2" stroke-width="0.9" stroke-linecap="butt"/>
<line x1="396.80" y1="17.95" x2="433.80" y2="17.34" stroke="#2fa0b2" stroke-width="0.9" stroke-linecap="butt"/>
<line x1="396.80" y1="18.56" x2="433.80" y2="20.70" stroke="#2fa0b2" stroke-width="0.9" stroke-linecap="butt"/>
<line x1="396.80" y1="19.17" x2="433.80" y2="20.70" stroke="#2fa0b2" stroke-width="0.9" stroke-linecap="butt"/>
<line x1="396.80" y1="20.09" x2="433.80" y2="26.82" stroke="#2fa0b2" stroke-width="0.9" stroke-linecap="butt"/>
<line x1="396.80" y1="21.01" x2="433.80" y2="28.35" stroke="#2fa0b2" stroke-width="0.9" stroke-linecap="butt"/>
<line x1="396.80" y1="21.62" x2="433.80" y2="29.58" stroke="#2fa0b2" stroke-width="0.9" stroke-linecap="butt"/>
<line x1="396.80" y1="22.54" x2="433.80" y2="28.35" stroke="#2fa0b2" stroke-width="0.9" stroke-linecap="butt"/>
<line x1="396.80" y1="23.15" x2="433.80" y2="33.55" stroke="#2fa0b2" stroke-width="0.9" stroke-linecap="butt"/>
<line x1="396.80" y1="24.07" x2="433.80" y2="34.78" stroke="#2fa0b2" stroke-width="0.9" stroke-linecap="butt"/>
<line x1="396.80" y1="24.68" x2="433.80" y2="36.31" stroke="#2fa0b2" stroke-width="0.9" stroke-linecap="butt"/>
<line x1="396.80" y1="25.90" x2="433.80" y2="37.84" stroke="#2fa0b2" stroke-width="0.9" stroke-linecap="butt"/>
<line x1="396.80" y1="26.82" x2="433.80" y2="39.37" stroke="#2fa0b2" stroke-width="0.9" stroke-linecap="butt"/>
<line x1="396.80" y1="27.74" x2="433.80" y2="41.82" stroke="#2fa0b2" stroke-width="0.9" stroke-linecap="butt"/>
<line x1="396.80" y1="28.96" x2="433.80" y2="34.78" stroke="#2fa0b2" stroke-width="0.9" stroke-linecap="butt"/>
<line x1="396.80" y1="30.19" x2="433.80" y2="39.37" stroke="#2fa0b2" stroke-width="0.9" stroke-linecap="butt"/>
<line x1="396.80" y1="31.41" x2="433.80" y2="41.82" stroke="#2fa0b2" stroke-width="0.9" stroke-linecap="butt"/>
<line x1="396.80" y1="32.94" x2="433.80" y2="65.38" stroke="#2fa0b2" stroke-width="0.9" stroke-linecap="butt"/>
<line x1="396.80" y1="34.47" x2="433.80" y2="78.84" stroke="#2fa0b2" stroke-width="0.9" stroke-linecap="butt"/>
<line x1="396.80" y1="36.00" x2="433.80" y2="66.91" stroke="#2fa0b2" stroke-width="0.9" stroke-linecap="butt"/>
<line x1="396.80" y1="41.51" x2="433.80" y2="37.84" stroke="#2fa0b2" stroke-width="0.9" stroke-linecap="butt"/>
<line x1="396.80" y1="45.79" x2="433.80" y2="98.43" stroke="#2fa0b2" stroke-width="0.9" stroke-linecap="butt"/>
<line x1="396.80" y1="47.63" x2="433.80" y2="70.27" stroke="#2fa0b2" stroke-width="0.9" stroke-linecap="butt"/>
<line x1="396.80" y1="59.26" x2="433.80" y2="65.38" stroke="#2fa0b2" stroke-width="0.9" stroke-linecap="butt"/>
<line x1="396.80" y1="61.09" x2="433.80" y2="84.35" stroke="#2fa0b2" stroke-width="0.9" stroke-linecap="butt"/>
<line x1="396.80" y1="62.93" x2="433.80" y2="66.91" stroke="#2fa0b2" stroke-width="0.9" stroke-linecap="butt"/>
<line x1="396.80" y1="70.58" x2="433.80" y2="85.88" stroke="#2fa0b2" stroke-width="0.9" stroke-linecap="butt"/>
<circle cx="396.80" cy="15.50" r="1.35" fill="#6a78bc" stroke="#4858a6" stroke-width="0.9"/>
<circle cx="396.80" cy="15.50" r="1.35" fill="#6a78bc" stroke="#4858a6" stroke-width="0.9"/>
<circle cx="396.80" cy="16.11" r="1.35" fill="#6a78bc" stroke="#4858a6" stroke-width="0.9"/>
<circle cx="396.80" cy="17.03" r="1.35" fill="#6a78bc" stroke="#4858a6" stroke-width="0.9"/>
<circle cx="396.80" cy="17.95" r="1.35" fill="#6a78bc" stroke="#4858a6" stroke-width="0.9"/>
<circle cx="396.80" cy="18.56" r="1.35" fill="#6a78bc" stroke="#4858a6" stroke-width="0.9"/>
<circle cx="396.80" cy="19.17" r="1.35" fill="#6a78bc" stroke="#4858a6" stroke-width="0.9"/>
<circle cx="396.80" cy="20.09" r="1.35" fill="#6a78bc" stroke="#4858a6" stroke-width="0.9"/>
<circle cx="396.80" cy="21.01" r="1.35" fill="#6a78bc" stroke="#4858a6" stroke-width="0.9"/>
<circle cx="396.80" cy="21.62" r="1.35" fill="#6a78bc" stroke="#4858a6" stroke-width="0.9"/>
<circle cx="396.80" cy="22.54" r="1.35" fill="#6a78bc" stroke="#4858a6" stroke-width="0.9"/>
<circle cx="396.80" cy="23.15" r="1.35" fill="#6a78bc" stroke="#4858a6" stroke-width="0.9"/>
<circle cx="396.80" cy="24.07" r="1.35" fill="#6a78bc" stroke="#4858a6" stroke-width="0.9"/>
<circle cx="396.80" cy="24.68" r="1.35" fill="#6a78bc" stroke="#4858a6" stroke-width="0.9"/>
<circle cx="396.80" cy="25.90" r="1.35" fill="#6a78bc" stroke="#4858a6" stroke-width="0.9"/>
<circle cx="396.80" cy="26.82" r="1.35" fill="#6a78bc" stroke="#4858a6" stroke-width="0.9"/>
<circle cx="396.80" cy="27.74" r="1.35" fill="#6a78bc" stroke="#4858a6" stroke-width="0.9"/>
<circle cx="396.80" cy="28.96" r="1.35" fill="#6a78bc" stroke="#4858a6" stroke-width="0.9"/>
<circle cx="396.80" cy="30.19" r="1.35" fill="#6a78bc" stroke="#4858a6" stroke-width="0.9"/>
<circle cx="396.80" cy="31.41" r="1.35" fill="#6a78bc" stroke="#4858a6" stroke-width="0.9"/>
<circle cx="396.80" cy="32.94" r="1.35" fill="#6a78bc" stroke="#4858a6" stroke-width="0.9"/>
<circle cx="396.80" cy="34.47" r="1.35" fill="#6a78bc" stroke="#4858a6" stroke-width="0.9"/>
<circle cx="396.80" cy="36.00" r="1.35" fill="#6a78bc" stroke="#4858a6" stroke-width="0.9"/>
<circle cx="396.80" cy="41.51" r="1.35" fill="#6a78bc" stroke="#4858a6" stroke-width="0.9"/>
<circle cx="396.80" cy="45.79" r="1.35" fill="#6a78bc" stroke="#4858a6" stroke-width="0.9"/>
<circle cx="396.80" cy="47.63" r="1.35" fill="#6a78bc" stroke="#4858a6" stroke-width="0.9"/>
<circle cx="396.80" cy="59.26" r="1.35" fill="#6a78bc" stroke="#4858a6" stroke-width="0.9"/>
<circle cx="396.80" cy="61.09" r="1.35" fill="#6a78bc" stroke="#4858a6" stroke-width="0.9"/>
<circle cx="396.80" cy="62.93" r="1.35" fill="#6a78bc" stroke="#4858a6" stroke-width="0.9"/>
<circle cx="396.80" cy="70.58" r="1.35" fill="#6a78bc" stroke="#4858a6" stroke-width="0.9"/>
<circle cx="433.80" cy="15.50" r="1.35" fill="#5a7ca0" stroke="#33587e" stroke-width="0.9"/>
<circle cx="433.80" cy="16.11" r="1.35" fill="#5a7ca0" stroke="#33587e" stroke-width="0.9"/>
<circle cx="433.80" cy="17.34" r="1.35" fill="#5a7ca0" stroke="#33587e" stroke-width="0.9"/>
<circle cx="433.80" cy="19.78" r="1.35" fill="#5a7ca0" stroke="#33587e" stroke-width="0.9"/>
<circle cx="433.80" cy="17.34" r="1.35" fill="#5a7ca0" stroke="#33587e" stroke-width="0.9"/>
<circle cx="433.80" cy="20.70" r="1.35" fill="#5a7ca0" stroke="#33587e" stroke-width="0.9"/>
<circle cx="433.80" cy="20.70" r="1.35" fill="#5a7ca0" stroke="#33587e" stroke-width="0.9"/>
<circle cx="433.80" cy="26.82" r="1.35" fill="#5a7ca0" stroke="#33587e" stroke-width="0.9"/>
<circle cx="433.80" cy="28.35" r="1.35" fill="#5a7ca0" stroke="#33587e" stroke-width="0.9"/>
<circle cx="433.80" cy="29.58" r="1.35" fill="#5a7ca0" stroke="#33587e" stroke-width="0.9"/>
<circle cx="433.80" cy="28.35" r="1.35" fill="#5a7ca0" stroke="#33587e" stroke-width="0.9"/>
<circle cx="433.80" cy="33.55" r="1.35" fill="#5a7ca0" stroke="#33587e" stroke-width="0.9"/>
<circle cx="433.80" cy="34.78" r="1.35" fill="#5a7ca0" stroke="#33587e" stroke-width="0.9"/>
<circle cx="433.80" cy="36.31" r="1.35" fill="#5a7ca0" stroke="#33587e" stroke-width="0.9"/>
<circle cx="433.80" cy="37.84" r="1.35" fill="#5a7ca0" stroke="#33587e" stroke-width="0.9"/>
<circle cx="433.80" cy="39.37" r="1.35" fill="#5a7ca0" stroke="#33587e" stroke-width="0.9"/>
<circle cx="433.80" cy="41.82" r="1.35" fill="#5a7ca0" stroke="#33587e" stroke-width="0.9"/>
<circle cx="433.80" cy="34.78" r="1.35" fill="#5a7ca0" stroke="#33587e" stroke-width="0.9"/>
<circle cx="433.80" cy="39.37" r="1.35" fill="#5a7ca0" stroke="#33587e" stroke-width="0.9"/>
<circle cx="433.80" cy="41.82" r="1.35" fill="#5a7ca0" stroke="#33587e" stroke-width="0.9"/>
<circle cx="433.80" cy="65.38" r="1.35" fill="#5a7ca0" stroke="#33587e" stroke-width="0.9"/>
<circle cx="433.80" cy="78.84" r="1.35" fill="#5a7ca0" stroke="#33587e" stroke-width="0.9"/>
<circle cx="433.80" cy="66.91" r="1.35" fill="#5a7ca0" stroke="#33587e" stroke-width="0.9"/>
<circle cx="433.80" cy="37.84" r="1.35" fill="#5a7ca0" stroke="#33587e" stroke-width="0.9"/>
<circle cx="433.80" cy="98.43" r="1.35" fill="#5a7ca0" stroke="#33587e" stroke-width="0.9"/>
<circle cx="433.80" cy="70.27" r="1.35" fill="#5a7ca0" stroke="#33587e" stroke-width="0.9"/>
<circle cx="433.80" cy="65.38" r="1.35" fill="#5a7ca0" stroke="#33587e" stroke-width="0.9"/>
<circle cx="433.80" cy="84.35" r="1.35" fill="#5a7ca0" stroke="#33587e" stroke-width="0.9"/>
<circle cx="433.80" cy="66.91" r="1.35" fill="#5a7ca0" stroke="#33587e" stroke-width="0.9"/>
<circle cx="433.80" cy="85.88" r="1.35" fill="#5a7ca0" stroke="#33587e" stroke-width="0.9"/>
<polyline points="396.40,12.00 396.40,6.30 433.90,6.30 433.90,12.00" fill="none" stroke="#000" stroke-width="1.7"/>
<polygon points="411.20,1.95 411.61,2.98 412.72,3.06 411.87,3.77 412.14,4.84 411.20,4.25 410.26,4.84 410.53,3.77 409.68,3.06 410.79,2.98" fill="#333"/>
<polygon points="415.20,1.95 415.61,2.98 416.72,3.06 415.87,3.77 416.14,4.84 415.20,4.25 414.26,4.84 414.53,3.77 413.68,3.06 414.79,2.98" fill="#333"/>
<polygon points="419.20,1.95 419.61,2.98 420.72,3.06 419.87,3.77 420.14,4.84 419.20,4.25 418.26,4.84 418.53,3.77 417.68,3.06 418.79,2.98" fill="#333"/>
<text x="466.00" y="10.50" font-size="14" text-anchor="start" fill="#111" stroke="#111" stroke-width="0.22" font-weight="bold" >D</text>
<path d="M546.40,15.22 A64.55,63.775 0 1 1 482.20,72.33 L514.58,75.70 A32.0,31.616 0 1 0 546.40,47.38 Z" fill="#7898c4" stroke="#000" stroke-width="1.35" stroke-linejoin="miter"/>
<path d="M478.19,67.87 A64.55,63.775 0 0 1 528.96,12.16 L535.73,43.62 A32.0,31.616 0 0 0 510.56,71.24 Z" fill="#3e7f9d" stroke="#000" stroke-width="1.35" stroke-linejoin="miter"/>
<path d="M528.96,12.16 A64.55,63.775 0 0 1 542.39,10.77 L542.39,42.93 A32.0,31.616 0 0 0 535.73,43.62 Z" fill="#62509a" stroke="#000" stroke-width="1.35" stroke-linejoin="miter"/>
<text x="544.90" y="81.90" font-size="10.3" text-anchor="middle" fill="#333" stroke="#333" stroke-width="0.22" font-weight="normal" >Total=30</text>
<rect x="623.8" y="50.30" width="13" height="5.7" fill="#7898c4" stroke="#000" stroke-width="1.2"/>
<text x="644.50" y="56.90" font-size="10" text-anchor="start" fill="#3a3a3a" stroke="#3a3a3a" stroke-width="0.22" font-weight="normal" >LSSTM</text>
<rect x="623.8" y="68.25" width="13" height="5.7" fill="#3e7f9d" stroke="#000" stroke-width="1.2"/>
<text x="644.50" y="74.85" font-size="10" text-anchor="start" fill="#3a3a3a" stroke="#3a3a3a" stroke-width="0.22" font-weight="normal" >RF</text>
<rect x="623.8" y="86.20" width="13" height="5.7" fill="#62509a" stroke="#000" stroke-width="1.2"/>
<text x="644.50" y="92.80" font-size="10" text-anchor="start" fill="#3a3a3a" stroke="#3a3a3a" stroke-width="0.22" font-weight="normal" letter-spacing="-0.3">adaBoost</text>
<text x="0.60" y="171.40" font-size="14" text-anchor="start" fill="#111" stroke="#111" stroke-width="0.22" font-weight="bold" >E</text>
<line x1="44.80" y1="176.65" x2="44.80" y2="283.20" stroke="#000" stroke-width="1.55" stroke-linecap="butt"/>
<line x1="44.80" y1="295.00" x2="44.80" y2="306.00" stroke="#000" stroke-width="1.55" stroke-linecap="butt"/>
<line x1="39.80" y1="177.25" x2="44.80" y2="177.25" stroke="#000" stroke-width="1.55" stroke-linecap="butt"/>
<text x="38.60" y="180.35" font-size="9.6" text-anchor="end" fill="#1a1a1a" stroke="#1a1a1a" stroke-width="0.22" font-weight="normal" >100</text>
<line x1="39.80" y1="193.69" x2="44.80" y2="193.69" stroke="#000" stroke-width="1.55" stroke-linecap="butt"/>
<text x="38.60" y="196.79" font-size="9.6" text-anchor="end" fill="#1a1a1a" stroke="#1a1a1a" stroke-width="0.22" font-weight="normal" >90</text>
<line x1="39.80" y1="210.13" x2="44.80" y2="210.13" stroke="#000" stroke-width="1.55" stroke-linecap="butt"/>
<text x="38.60" y="213.23" font-size="9.6" text-anchor="end" fill="#1a1a1a" stroke="#1a1a1a" stroke-width="0.22" font-weight="normal" >80</text>
<line x1="39.80" y1="226.57" x2="44.80" y2="226.57" stroke="#000" stroke-width="1.55" stroke-linecap="butt"/>
<text x="38.60" y="229.67" font-size="9.6" text-anchor="end" fill="#1a1a1a" stroke="#1a1a1a" stroke-width="0.22" font-weight="normal" >70</text>
<line x1="39.80" y1="243.01" x2="44.80" y2="243.01" stroke="#000" stroke-width="1.55" stroke-linecap="butt"/>
<text x="38.60" y="246.11" font-size="9.6" text-anchor="end" fill="#1a1a1a" stroke="#1a1a1a" stroke-width="0.22" font-weight="normal" >60</text>
<line x1="39.80" y1="259.45" x2="44.80" y2="259.45" stroke="#000" stroke-width="1.55" stroke-linecap="butt"/>
<text x="38.60" y="262.55" font-size="9.6" text-anchor="end" fill="#1a1a1a" stroke="#1a1a1a" stroke-width="0.22" font-weight="normal" >50</text>
<line x1="39.80" y1="275.89" x2="44.80" y2="275.89" stroke="#000" stroke-width="1.55" stroke-linecap="butt"/>
<text x="38.60" y="278.99" font-size="9.6" text-anchor="end" fill="#1a1a1a" stroke="#1a1a1a" stroke-width="0.22" font-weight="normal" >40</text>
<text x="38.60" y="296.90" font-size="9.6" text-anchor="end" fill="#1a1a1a" stroke="#1a1a1a" stroke-width="0.22" font-weight="normal" >10</text>
<text x="38.60" y="308.50" font-size="9.6" text-anchor="end" fill="#1a1a1a" stroke="#1a1a1a" stroke-width="0.22" font-weight="normal" >0</text>
<line x1="41.80" y1="282.15" x2="48.20" y2="287.25" stroke="#000" stroke-width="1.5" stroke-linecap="butt"/>
<line x1="41.80" y1="290.55" x2="48.20" y2="295.65" stroke="#000" stroke-width="1.5" stroke-linecap="butt"/>
<polyline points="52.40,284.30 52.40,227.89 64.60,227.89 64.60,284.30" fill="none" stroke="#4163a2" stroke-width="1.4"/>
<line x1="52.40" y1="294.10" x2="52.40" y2="305.40" stroke="#4163a2" stroke-width="1.4" stroke-linecap="butt"/>
<line x1="64.60" y1="294.10" x2="64.60" y2="305.40" stroke="#4163a2" stroke-width="1.4" stroke-linecap="butt"/>
<line x1="58.50" y1="214.31" x2="58.50" y2="241.46" stroke="#4163a2" stroke-width="1.0" stroke-linecap="butt"/>
<line x1="54.70" y1="214.31" x2="62.30" y2="214.31" stroke="#4163a2" stroke-width="1.0" stroke-linecap="butt"/>
<line x1="54.70" y1="241.46" x2="62.30" y2="241.46" stroke="#4163a2" stroke-width="1.0" stroke-linecap="butt"/>
<circle cx="55.85" cy="202.57" r="1.25" fill="none" stroke="#4163a2" stroke-width="1.1"/>
<circle cx="58.50" cy="202.90" r="1.25" fill="none" stroke="#4163a2" stroke-width="1.1"/>
<circle cx="61.15" cy="203.23" r="1.25" fill="none" stroke="#4163a2" stroke-width="1.1"/>
<circle cx="55.85" cy="210.13" r="1.25" fill="none" stroke="#4163a2" stroke-width="1.1"/>
<circle cx="58.50" cy="211.28" r="1.25" fill="none" stroke="#4163a2" stroke-width="1.1"/>
<circle cx="61.15" cy="212.43" r="1.25" fill="none" stroke="#4163a2" stroke-width="1.1"/>
<circle cx="53.10" cy="213.16" r="1.25" fill="none" stroke="#4163a2" stroke-width="1.1"/>
<circle cx="55.26" cy="213.40" r="1.25" fill="none" stroke="#4163a2" stroke-width="1.1"/>
<circle cx="57.42" cy="213.47" r="1.25" fill="none" stroke="#4163a2" stroke-width="1.1"/>
<circle cx="59.58" cy="214.54" r="1.25" fill="none" stroke="#4163a2" stroke-width="1.1"/>
<circle cx="61.74" cy="214.95" r="1.25" fill="none" stroke="#4163a2" stroke-width="1.1"/>
<circle cx="63.90" cy="215.30" r="1.25" fill="none" stroke="#4163a2" stroke-width="1.1"/>
<circle cx="53.10" cy="216.35" r="1.25" fill="none" stroke="#4163a2" stroke-width="1.1"/>
<circle cx="54.90" cy="216.36" r="1.25" fill="none" stroke="#4163a2" stroke-width="1.1"/>
<circle cx="56.70" cy="216.64" r="1.25" fill="none" stroke="#4163a2" stroke-width="1.1"/>
<circle cx="58.50" cy="216.87" r="1.25" fill="none" stroke="#4163a2" stroke-width="1.1"/>
<circle cx="60.30" cy="218.37" r="1.25" fill="none" stroke="#4163a2" stroke-width="1.1"/>
<circle cx="62.10" cy="218.53" r="1.25" fill="none" stroke="#4163a2" stroke-width="1.1"/>
<circle cx="63.90" cy="218.71" r="1.25" fill="none" stroke="#4163a2" stroke-width="1.1"/>
<circle cx="53.20" cy="219.31" r="1.25" fill="none" stroke="#4163a2" stroke-width="1.1"/>
<circle cx="55.85" cy="219.71" r="1.25" fill="none" stroke="#4163a2" stroke-width="1.1"/>
<circle cx="58.50" cy="220.67" r="1.25" fill="none" stroke="#4163a2" stroke-width="1.1"/>
<circle cx="61.15" cy="221.37" r="1.25" fill="none" stroke="#4163a2" stroke-width="1.1"/>
<circle cx="63.80" cy="221.39" r="1.25" fill="none" stroke="#4163a2" stroke-width="1.1"/>
<circle cx="55.85" cy="222.54" r="1.25" fill="none" stroke="#4163a2" stroke-width="1.1"/>
<circle cx="58.50" cy="223.29" r="1.25" fill="none" stroke="#4163a2" stroke-width="1.1"/>
<circle cx="61.15" cy="224.67" r="1.25" fill="none" stroke="#4163a2" stroke-width="1.1"/>
<circle cx="55.85" cy="225.51" r="1.25" fill="none" stroke="#4163a2" stroke-width="1.1"/>
<circle cx="58.50" cy="225.57" r="1.25" fill="none" stroke="#4163a2" stroke-width="1.1"/>
<circle cx="61.15" cy="226.89" r="1.25" fill="none" stroke="#4163a2" stroke-width="1.1"/>
<circle cx="54.52" cy="230.48" r="1.25" fill="none" stroke="#4163a2" stroke-width="1.1"/>
<circle cx="57.17" cy="231.19" r="1.25" fill="none" stroke="#4163a2" stroke-width="1.1"/>
<circle cx="59.83" cy="232.30" r="1.25" fill="none" stroke="#4163a2" stroke-width="1.1"/>
<circle cx="62.48" cy="232.44" r="1.25" fill="none" stroke="#4163a2" stroke-width="1.1"/>
<circle cx="54.52" cy="233.27" r="1.25" fill="none" stroke="#4163a2" stroke-width="1.1"/>
<circle cx="57.17" cy="233.46" r="1.25" fill="none" stroke="#4163a2" stroke-width="1.1"/>
<circle cx="59.83" cy="234.43" r="1.25" fill="none" stroke="#4163a2" stroke-width="1.1"/>
<circle cx="62.48" cy="235.19" r="1.25" fill="none" stroke="#4163a2" stroke-width="1.1"/>
<circle cx="55.85" cy="236.34" r="1.25" fill="none" stroke="#4163a2" stroke-width="1.1"/>
<circle cx="58.50" cy="237.03" r="1.25" fill="none" stroke="#4163a2" stroke-width="1.1"/>
<circle cx="61.15" cy="238.27" r="1.25" fill="none" stroke="#4163a2" stroke-width="1.1"/>
<circle cx="54.52" cy="239.35" r="1.25" fill="none" stroke="#4163a2" stroke-width="1.1"/>
<circle cx="57.17" cy="239.47" r="1.25" fill="none" stroke="#4163a2" stroke-width="1.1"/>
<circle cx="59.83" cy="240.29" r="1.25" fill="none" stroke="#4163a2" stroke-width="1.1"/>
<circle cx="62.48" cy="241.45" r="1.25" fill="none" stroke="#4163a2" stroke-width="1.1"/>
<circle cx="57.17" cy="242.59" r="1.25" fill="none" stroke="#4163a2" stroke-width="1.1"/>
<circle cx="59.83" cy="244.11" r="1.25" fill="none" stroke="#4163a2" stroke-width="1.1"/>
<circle cx="57.17" cy="251.23" r="1.25" fill="none" stroke="#4163a2" stroke-width="1.1"/>
<circle cx="59.83" cy="252.38" r="1.25" fill="none" stroke="#4163a2" stroke-width="1.1"/>
<circle cx="57.17" cy="256.16" r="1.25" fill="none" stroke="#4163a2" stroke-width="1.1"/>
<circle cx="59.83" cy="257.48" r="1.25" fill="none" stroke="#4163a2" stroke-width="1.1"/>
<polyline points="72.65,284.30 72.65,231.83 84.85,231.83 84.85,284.30" fill="none" stroke="#5f409c" stroke-width="1.4"/>
<line x1="72.65" y1="294.10" x2="72.65" y2="305.40" stroke="#5f409c" stroke-width="1.4" stroke-linecap="butt"/>
<line x1="84.85" y1="294.10" x2="84.85" y2="305.40" stroke="#5f409c" stroke-width="1.4" stroke-linecap="butt"/>
<line x1="78.75" y1="217.59" x2="78.75" y2="246.07" stroke="#5f409c" stroke-width="1.0" stroke-linecap="butt"/>
<line x1="74.95" y1="217.59" x2="82.55" y2="217.59" stroke="#5f409c" stroke-width="1.0" stroke-linecap="butt"/>
<line x1="74.95" y1="246.07" x2="82.55" y2="246.07" stroke="#5f409c" stroke-width="1.0" stroke-linecap="butt"/>
<circle cx="78.75" cy="200.76" r="1.25" fill="none" stroke="#5f409c" stroke-width="1.1"/>
<circle cx="76.10" cy="207.50" r="1.25" fill="none" stroke="#5f409c" stroke-width="1.1"/>
<circle cx="78.75" cy="208.16" r="1.25" fill="none" stroke="#5f409c" stroke-width="1.1"/>
<circle cx="81.40" cy="209.54" r="1.25" fill="none" stroke="#5f409c" stroke-width="1.1"/>
<circle cx="74.78" cy="210.33" r="1.25" fill="none" stroke="#5f409c" stroke-width="1.1"/>
<circle cx="77.42" cy="211.38" r="1.25" fill="none" stroke="#5f409c" stroke-width="1.1"/>
<circle cx="80.08" cy="211.53" r="1.25" fill="none" stroke="#5f409c" stroke-width="1.1"/>
<circle cx="82.72" cy="212.80" r="1.25" fill="none" stroke="#5f409c" stroke-width="1.1"/>
<circle cx="76.10" cy="213.01" r="1.25" fill="none" stroke="#5f409c" stroke-width="1.1"/>
<circle cx="78.75" cy="214.57" r="1.25" fill="none" stroke="#5f409c" stroke-width="1.1"/>
<circle cx="81.40" cy="214.60" r="1.25" fill="none" stroke="#5f409c" stroke-width="1.1"/>
<circle cx="76.10" cy="215.64" r="1.25" fill="none" stroke="#5f409c" stroke-width="1.1"/>
<circle cx="78.75" cy="217.77" r="1.25" fill="none" stroke="#5f409c" stroke-width="1.1"/>
<circle cx="81.40" cy="218.11" r="1.25" fill="none" stroke="#5f409c" stroke-width="1.1"/>
<circle cx="74.78" cy="218.45" r="1.25" fill="none" stroke="#5f409c" stroke-width="1.1"/>
<circle cx="77.42" cy="219.39" r="1.25" fill="none" stroke="#5f409c" stroke-width="1.1"/>
<circle cx="80.08" cy="219.45" r="1.25" fill="none" stroke="#5f409c" stroke-width="1.1"/>
<circle cx="82.72" cy="220.94" r="1.25" fill="none" stroke="#5f409c" stroke-width="1.1"/>
<circle cx="74.78" cy="221.98" r="1.25" fill="none" stroke="#5f409c" stroke-width="1.1"/>
<circle cx="77.42" cy="222.11" r="1.25" fill="none" stroke="#5f409c" stroke-width="1.1"/>
<circle cx="80.08" cy="222.45" r="1.25" fill="none" stroke="#5f409c" stroke-width="1.1"/>
<circle cx="82.72" cy="223.90" r="1.25" fill="none" stroke="#5f409c" stroke-width="1.1"/>
<circle cx="74.78" cy="224.86" r="1.25" fill="none" stroke="#5f409c" stroke-width="1.1"/>
<circle cx="77.42" cy="224.95" r="1.25" fill="none" stroke="#5f409c" stroke-width="1.1"/>
<circle cx="80.08" cy="225.19" r="1.25" fill="none" stroke="#5f409c" stroke-width="1.1"/>
<circle cx="82.72" cy="225.95" r="1.25" fill="none" stroke="#5f409c" stroke-width="1.1"/>
<circle cx="73.45" cy="227.59" r="1.25" fill="none" stroke="#5f409c" stroke-width="1.1"/>
<circle cx="76.10" cy="228.09" r="1.25" fill="none" stroke="#5f409c" stroke-width="1.1"/>
<circle cx="78.75" cy="228.99" r="1.25" fill="none" stroke="#5f409c" stroke-width="1.1"/>
<circle cx="81.40" cy="229.35" r="1.25" fill="none" stroke="#5f409c" stroke-width="1.1"/>
<circle cx="84.05" cy="229.75" r="1.25" fill="none" stroke="#5f409c" stroke-width="1.1"/>
<circle cx="76.10" cy="230.96" r="1.25" fill="none" stroke="#5f409c" stroke-width="1.1"/>
<circle cx="78.75" cy="231.09" r="1.25" fill="none" stroke="#5f409c" stroke-width="1.1"/>
<circle cx="81.40" cy="232.24" r="1.25" fill="none" stroke="#5f409c" stroke-width="1.1"/>
<circle cx="76.10" cy="233.81" r="1.25" fill="none" stroke="#5f409c" stroke-width="1.1"/>
<circle cx="78.75" cy="234.21" r="1.25" fill="none" stroke="#5f409c" stroke-width="1.1"/>
<circle cx="81.40" cy="236.29" r="1.25" fill="none" stroke="#5f409c" stroke-width="1.1"/>
<circle cx="77.42" cy="236.73" r="1.25" fill="none" stroke="#5f409c" stroke-width="1.1"/>
<circle cx="80.08" cy="238.71" r="1.25" fill="none" stroke="#5f409c" stroke-width="1.1"/>
<circle cx="77.42" cy="239.45" r="1.25" fill="none" stroke="#5f409c" stroke-width="1.1"/>
<circle cx="80.08" cy="240.95" r="1.25" fill="none" stroke="#5f409c" stroke-width="1.1"/>
<circle cx="76.10" cy="242.07" r="1.25" fill="none" stroke="#5f409c" stroke-width="1.1"/>
<circle cx="78.75" cy="242.22" r="1.25" fill="none" stroke="#5f409c" stroke-width="1.1"/>
<circle cx="81.40" cy="243.67" r="1.25" fill="none" stroke="#5f409c" stroke-width="1.1"/>
<circle cx="78.75" cy="245.60" r="1.25" fill="none" stroke="#5f409c" stroke-width="1.1"/>
<circle cx="77.42" cy="248.76" r="1.25" fill="none" stroke="#5f409c" stroke-width="1.1"/>
<circle cx="80.08" cy="249.09" r="1.25" fill="none" stroke="#5f409c" stroke-width="1.1"/>
<circle cx="77.42" cy="253.53" r="1.25" fill="none" stroke="#5f409c" stroke-width="1.1"/>
<circle cx="80.08" cy="254.19" r="1.25" fill="none" stroke="#5f409c" stroke-width="1.1"/>
<circle cx="77.42" cy="258.46" r="1.25" fill="none" stroke="#5f409c" stroke-width="1.1"/>
<circle cx="80.08" cy="259.78" r="1.25" fill="none" stroke="#5f409c" stroke-width="1.1"/>
<polyline points="92.90,284.30 92.90,248.60 105.10,248.60 105.10,284.30" fill="none" stroke="#983ea6" stroke-width="1.4"/>
<line x1="92.90" y1="294.10" x2="92.90" y2="305.40" stroke="#983ea6" stroke-width="1.4" stroke-linecap="butt"/>
<line x1="105.10" y1="294.10" x2="105.10" y2="305.40" stroke="#983ea6" stroke-width="1.4" stroke-linecap="butt"/>
<line x1="99.00" y1="238.06" x2="99.00" y2="259.13" stroke="#983ea6" stroke-width="1.0" stroke-linecap="butt"/>
<line x1="95.20" y1="238.06" x2="102.80" y2="238.06" stroke="#983ea6" stroke-width="1.0" stroke-linecap="butt"/>
<line x1="95.20" y1="259.13" x2="102.80" y2="259.13" stroke="#983ea6" stroke-width="1.0" stroke-linecap="butt"/>
<circle cx="99.00" cy="225.91" r="1.25" fill="none" stroke="#983ea6" stroke-width="1.1"/>
<circle cx="97.67" cy="233.15" r="1.25" fill="none" stroke="#983ea6" stroke-width="1.1"/>
<circle cx="100.33" cy="233.47" r="1.25" fill="none" stroke="#983ea6" stroke-width="1.1"/>
<circle cx="93.70" cy="237.09" r="1.25" fill="none" stroke="#983ea6" stroke-width="1.1"/>
<circle cx="96.35" cy="237.26" r="1.25" fill="none" stroke="#983ea6" stroke-width="1.1"/>
<circle cx="99.00" cy="237.42" r="1.25" fill="none" stroke="#983ea6" stroke-width="1.1"/>
<circle cx="101.65" cy="239.39" r="1.25" fill="none" stroke="#983ea6" stroke-width="1.1"/>
<circle cx="104.30" cy="239.56" r="1.25" fill="none" stroke="#983ea6" stroke-width="1.1"/>
<circle cx="97.67" cy="239.72" r="1.25" fill="none" stroke="#983ea6" stroke-width="1.1"/>
<circle cx="100.33" cy="242.19" r="1.25" fill="none" stroke="#983ea6" stroke-width="1.1"/>
<circle cx="97.67" cy="242.35" r="1.25" fill="none" stroke="#983ea6" stroke-width="1.1"/>
<circle cx="100.33" cy="242.52" r="1.25" fill="none" stroke="#983ea6" stroke-width="1.1"/>
<circle cx="96.35" cy="245.15" r="1.25" fill="none" stroke="#983ea6" stroke-width="1.1"/>
<circle cx="99.00" cy="245.31" r="1.25" fill="none" stroke="#983ea6" stroke-width="1.1"/>
<circle cx="101.65" cy="245.48" r="1.25" fill="none" stroke="#983ea6" stroke-width="1.1"/>
<circle cx="95.03" cy="247.70" r="1.25" fill="none" stroke="#983ea6" stroke-width="1.1"/>
<circle cx="97.67" cy="249.27" r="1.25" fill="none" stroke="#983ea6" stroke-width="1.1"/>
<circle cx="100.33" cy="249.46" r="1.25" fill="none" stroke="#983ea6" stroke-width="1.1"/>
<circle cx="102.97" cy="249.57" r="1.25" fill="none" stroke="#983ea6" stroke-width="1.1"/>
<circle cx="95.03" cy="250.35" r="1.25" fill="none" stroke="#983ea6" stroke-width="1.1"/>
<circle cx="97.67" cy="250.98" r="1.25" fill="none" stroke="#983ea6" stroke-width="1.1"/>
<circle cx="100.33" cy="251.72" r="1.25" fill="none" stroke="#983ea6" stroke-width="1.1"/>
<circle cx="102.97" cy="252.70" r="1.25" fill="none" stroke="#983ea6" stroke-width="1.1"/>
<circle cx="95.03" cy="253.02" r="1.25" fill="none" stroke="#983ea6" stroke-width="1.1"/>
<circle cx="97.67" cy="253.21" r="1.25" fill="none" stroke="#983ea6" stroke-width="1.1"/>
<circle cx="100.33" cy="254.25" r="1.25" fill="none" stroke="#983ea6" stroke-width="1.1"/>
<circle cx="102.97" cy="254.87" r="1.25" fill="none" stroke="#983ea6" stroke-width="1.1"/>
<circle cx="93.60" cy="255.77" r="1.25" fill="none" stroke="#983ea6" stroke-width="1.1"/>
<circle cx="95.14" cy="256.16" r="1.25" fill="none" stroke="#983ea6" stroke-width="1.1"/>
<circle cx="96.69" cy="256.16" r="1.25" fill="none" stroke="#983ea6" stroke-width="1.1"/>
<circle cx="98.23" cy="256.32" r="1.25" fill="none" stroke="#983ea6" stroke-width="1.1"/>
<circle cx="99.77" cy="256.98" r="1.25" fill="none" stroke="#983ea6" stroke-width="1.1"/>
<circle cx="101.31" cy="257.24" r="1.25" fill="none" stroke="#983ea6" stroke-width="1.1"/>
<circle cx="102.86" cy="257.28" r="1.25" fill="none" stroke="#983ea6" stroke-width="1.1"/>
<circle cx="104.40" cy="258.19" r="1.25" fill="none" stroke="#983ea6" stroke-width="1.1"/>
<circle cx="93.70" cy="258.47" r="1.25" fill="none" stroke="#983ea6" stroke-width="1.1"/>
<circle cx="96.35" cy="258.65" r="1.25" fill="none" stroke="#983ea6" stroke-width="1.1"/>
<circle cx="99.00" cy="259.75" r="1.25" fill="none" stroke="#983ea6" stroke-width="1.1"/>
<circle cx="101.65" cy="260.18" r="1.25" fill="none" stroke="#983ea6" stroke-width="1.1"/>
<circle cx="104.30" cy="260.32" r="1.25" fill="none" stroke="#983ea6" stroke-width="1.1"/>
<circle cx="93.70" cy="261.91" r="1.25" fill="none" stroke="#983ea6" stroke-width="1.1"/>
<circle cx="96.35" cy="261.98" r="1.25" fill="none" stroke="#983ea6" stroke-width="1.1"/>
<circle cx="99.00" cy="262.52" r="1.25" fill="none" stroke="#983ea6" stroke-width="1.1"/>
<circle cx="101.65" cy="262.69" r="1.25" fill="none" stroke="#983ea6" stroke-width="1.1"/>
<circle cx="104.30" cy="264.10" r="1.25" fill="none" stroke="#983ea6" stroke-width="1.1"/>
<circle cx="95.03" cy="264.52" r="1.25" fill="none" stroke="#983ea6" stroke-width="1.1"/>
<circle cx="97.67" cy="264.76" r="1.25" fill="none" stroke="#983ea6" stroke-width="1.1"/>
<circle cx="100.33" cy="265.70" r="1.25" fill="none" stroke="#983ea6" stroke-width="1.1"/>
<circle cx="102.97" cy="266.03" r="1.25" fill="none" stroke="#983ea6" stroke-width="1.1"/>
<circle cx="97.67" cy="272.27" r="1.25" fill="none" stroke="#983ea6" stroke-width="1.1"/>
<circle cx="100.33" cy="272.93" r="1.25" fill="none" stroke="#983ea6" stroke-width="1.1"/>
<polyline points="113.15,284.30 113.15,251.89 125.35,251.89 125.35,284.30" fill="none" stroke="#5a9a42" stroke-width="1.4"/>
<line x1="113.15" y1="294.10" x2="113.15" y2="305.40" stroke="#5a9a42" stroke-width="1.4" stroke-linecap="butt"/>
<line x1="125.35" y1="294.10" x2="125.35" y2="305.40" stroke="#5a9a42" stroke-width="1.4" stroke-linecap="butt"/>
<line x1="119.25" y1="243.49" x2="119.25" y2="260.29" stroke="#5a9a42" stroke-width="1.0" stroke-linecap="butt"/>
<line x1="115.45" y1="243.49" x2="123.05" y2="243.49" stroke="#5a9a42" stroke-width="1.0" stroke-linecap="butt"/>
<line x1="115.45" y1="260.29" x2="123.05" y2="260.29" stroke="#5a9a42" stroke-width="1.0" stroke-linecap="butt"/>
<circle cx="119.25" cy="226.90" r="1.25" fill="none" stroke="#5a9a42" stroke-width="1.1"/>
<circle cx="117.92" cy="233.31" r="1.25" fill="none" stroke="#5a9a42" stroke-width="1.1"/>
<circle cx="120.58" cy="235.78" r="1.25" fill="none" stroke="#5a9a42" stroke-width="1.1"/>
<circle cx="117.92" cy="236.11" r="1.25" fill="none" stroke="#5a9a42" stroke-width="1.1"/>
<circle cx="120.58" cy="238.57" r="1.25" fill="none" stroke="#5a9a42" stroke-width="1.1"/>
<circle cx="117.92" cy="238.90" r="1.25" fill="none" stroke="#5a9a42" stroke-width="1.1"/>
<circle cx="120.58" cy="241.37" r="1.25" fill="none" stroke="#5a9a42" stroke-width="1.1"/>
<circle cx="115.28" cy="241.69" r="1.25" fill="none" stroke="#5a9a42" stroke-width="1.1"/>
<circle cx="117.92" cy="242.69" r="1.25" fill="none" stroke="#5a9a42" stroke-width="1.1"/>
<circle cx="120.58" cy="243.58" r="1.25" fill="none" stroke="#5a9a42" stroke-width="1.1"/>
<circle cx="123.22" cy="244.14" r="1.25" fill="none" stroke="#5a9a42" stroke-width="1.1"/>
<circle cx="113.95" cy="244.24" r="1.25" fill="none" stroke="#5a9a42" stroke-width="1.1"/>
<circle cx="116.60" cy="245.01" r="1.25" fill="none" stroke="#5a9a42" stroke-width="1.1"/>
<circle cx="119.25" cy="245.73" r="1.25" fill="none" stroke="#5a9a42" stroke-width="1.1"/>
<circle cx="121.90" cy="246.30" r="1.25" fill="none" stroke="#5a9a42" stroke-width="1.1"/>
<circle cx="124.55" cy="246.66" r="1.25" fill="none" stroke="#5a9a42" stroke-width="1.1"/>
<circle cx="113.85" cy="247.21" r="1.25" fill="none" stroke="#5a9a42" stroke-width="1.1"/>
<circle cx="116.01" cy="247.59" r="1.25" fill="none" stroke="#5a9a42" stroke-width="1.1"/>
<circle cx="118.17" cy="247.83" r="1.25" fill="none" stroke="#5a9a42" stroke-width="1.1"/>
<circle cx="120.33" cy="248.33" r="1.25" fill="none" stroke="#5a9a42" stroke-width="1.1"/>
<circle cx="122.49" cy="248.71" r="1.25" fill="none" stroke="#5a9a42" stroke-width="1.1"/>
<circle cx="124.65" cy="249.12" r="1.25" fill="none" stroke="#5a9a42" stroke-width="1.1"/>
<circle cx="113.85" cy="250.02" r="1.25" fill="none" stroke="#5a9a42" stroke-width="1.1"/>
<circle cx="115.39" cy="250.30" r="1.25" fill="none" stroke="#5a9a42" stroke-width="1.1"/>
<circle cx="116.94" cy="250.65" r="1.25" fill="none" stroke="#5a9a42" stroke-width="1.1"/>
<circle cx="118.48" cy="251.23" r="1.25" fill="none" stroke="#5a9a42" stroke-width="1.1"/>
<circle cx="120.02" cy="251.72" r="1.25" fill="none" stroke="#5a9a42" stroke-width="1.1"/>
<circle cx="121.56" cy="251.91" r="1.25" fill="none" stroke="#5a9a42" stroke-width="1.1"/>
<circle cx="123.11" cy="251.93" r="1.25" fill="none" stroke="#5a9a42" stroke-width="1.1"/>
<circle cx="124.65" cy="251.94" r="1.25" fill="none" stroke="#5a9a42" stroke-width="1.1"/>
<circle cx="113.95" cy="252.74" r="1.25" fill="none" stroke="#5a9a42" stroke-width="1.1"/>
<circle cx="116.60" cy="252.87" r="1.25" fill="none" stroke="#5a9a42" stroke-width="1.1"/>
<circle cx="119.25" cy="253.20" r="1.25" fill="none" stroke="#5a9a42" stroke-width="1.1"/>
<circle cx="121.90" cy="253.69" r="1.25" fill="none" stroke="#5a9a42" stroke-width="1.1"/>
<circle cx="124.55" cy="254.71" r="1.25" fill="none" stroke="#5a9a42" stroke-width="1.1"/>
<circle cx="113.85" cy="255.44" r="1.25" fill="none" stroke="#5a9a42" stroke-width="1.1"/>
<circle cx="115.65" cy="255.53" r="1.25" fill="none" stroke="#5a9a42" stroke-width="1.1"/>
<circle cx="117.45" cy="255.72" r="1.25" fill="none" stroke="#5a9a42" stroke-width="1.1"/>
<circle cx="119.25" cy="256.75" r="1.25" fill="none" stroke="#5a9a42" stroke-width="1.1"/>
<circle cx="121.05" cy="257.03" r="1.25" fill="none" stroke="#5a9a42" stroke-width="1.1"/>
<circle cx="122.85" cy="257.20" r="1.25" fill="none" stroke="#5a9a42" stroke-width="1.1"/>
<circle cx="124.65" cy="257.36" r="1.25" fill="none" stroke="#5a9a42" stroke-width="1.1"/>
<circle cx="115.28" cy="258.25" r="1.25" fill="none" stroke="#5a9a42" stroke-width="1.1"/>
<circle cx="117.92" cy="258.46" r="1.25" fill="none" stroke="#5a9a42" stroke-width="1.1"/>
<circle cx="120.58" cy="258.57" r="1.25" fill="none" stroke="#5a9a42" stroke-width="1.1"/>
<circle cx="123.22" cy="258.58" r="1.25" fill="none" stroke="#5a9a42" stroke-width="1.1"/>
<circle cx="116.60" cy="262.08" r="1.25" fill="none" stroke="#5a9a42" stroke-width="1.1"/>
<circle cx="119.25" cy="262.24" r="1.25" fill="none" stroke="#5a9a42" stroke-width="1.1"/>
<circle cx="121.90" cy="262.41" r="1.25" fill="none" stroke="#5a9a42" stroke-width="1.1"/>
<circle cx="117.92" cy="266.68" r="1.25" fill="none" stroke="#5a9a42" stroke-width="1.1"/>
<circle cx="120.58" cy="267.01" r="1.25" fill="none" stroke="#5a9a42" stroke-width="1.1"/>
<polyline points="133.40,284.30 133.40,260.60 145.60,260.60 145.60,284.30" fill="none" stroke="#2f4f6c" stroke-width="1.4"/>
<line x1="133.40" y1="294.10" x2="133.40" y2="305.40" stroke="#2f4f6c" stroke-width="1.4" stroke-linecap="butt"/>
<line x1="145.60" y1="294.10" x2="145.60" y2="305.40" stroke="#2f4f6c" stroke-width="1.4" stroke-linecap="butt"/>
<line x1="139.50" y1="250.85" x2="139.50" y2="270.35" stroke="#2f4f6c" stroke-width="1.0" stroke-linecap="butt"/>
<line x1="135.70" y1="250.85" x2="143.30" y2="250.85" stroke="#2f4f6c" stroke-width="1.0" stroke-linecap="butt"/>
<line x1="135.70" y1="270.35" x2="143.30" y2="270.35" stroke="#2f4f6c" stroke-width="1.0" stroke-linecap="butt"/>
<circle cx="139.50" cy="226.57" r="1.25" fill="none" stroke="#2f4f6c" stroke-width="1.1"/>
<circle cx="139.50" cy="231.83" r="1.25" fill="none" stroke="#2f4f6c" stroke-width="1.1"/>
<circle cx="139.50" cy="237.26" r="1.25" fill="none" stroke="#2f4f6c" stroke-width="1.1"/>
<circle cx="134.10" cy="249.52" r="1.25" fill="none" stroke="#2f4f6c" stroke-width="1.1"/>
<circle cx="135.64" cy="249.80" r="1.25" fill="none" stroke="#2f4f6c" stroke-width="1.1"/>
<circle cx="137.19" cy="250.30" r="1.25" fill="none" stroke="#2f4f6c" stroke-width="1.1"/>
<circle cx="138.73" cy="251.17" r="1.25" fill="none" stroke="#2f4f6c" stroke-width="1.1"/>
<circle cx="140.27" cy="251.29" r="1.25" fill="none" stroke="#2f4f6c" stroke-width="1.1"/>
<circle cx="141.81" cy="251.77" r="1.25" fill="none" stroke="#2f4f6c" stroke-width="1.1"/>
<circle cx="143.36" cy="251.79" r="1.25" fill="none" stroke="#2f4f6c" stroke-width="1.1"/>
<circle cx="144.90" cy="251.82" r="1.25" fill="none" stroke="#2f4f6c" stroke-width="1.1"/>
<circle cx="134.10" cy="252.15" r="1.25" fill="none" stroke="#2f4f6c" stroke-width="1.1"/>
<circle cx="135.90" cy="252.92" r="1.25" fill="none" stroke="#2f4f6c" stroke-width="1.1"/>
<circle cx="137.70" cy="253.46" r="1.25" fill="none" stroke="#2f4f6c" stroke-width="1.1"/>
<circle cx="139.50" cy="253.49" r="1.25" fill="none" stroke="#2f4f6c" stroke-width="1.1"/>
<circle cx="141.30" cy="253.50" r="1.25" fill="none" stroke="#2f4f6c" stroke-width="1.1"/>
<circle cx="143.10" cy="253.74" r="1.25" fill="none" stroke="#2f4f6c" stroke-width="1.1"/>
<circle cx="144.90" cy="254.41" r="1.25" fill="none" stroke="#2f4f6c" stroke-width="1.1"/>
<circle cx="134.10" cy="255.08" r="1.25" fill="none" stroke="#2f4f6c" stroke-width="1.1"/>
<circle cx="135.64" cy="255.14" r="1.25" fill="none" stroke="#2f4f6c" stroke-width="1.1"/>
<circle cx="137.19" cy="255.23" r="1.25" fill="none" stroke="#2f4f6c" stroke-width="1.1"/>
<circle cx="138.73" cy="255.44" r="1.25" fill="none" stroke="#2f4f6c" stroke-width="1.1"/>
<circle cx="140.27" cy="255.81" r="1.25" fill="none" stroke="#2f4f6c" stroke-width="1.1"/>
<circle cx="141.81" cy="256.52" r="1.25" fill="none" stroke="#2f4f6c" stroke-width="1.1"/>
<circle cx="143.36" cy="256.99" r="1.25" fill="none" stroke="#2f4f6c" stroke-width="1.1"/>
<circle cx="144.90" cy="257.41" r="1.25" fill="none" stroke="#2f4f6c" stroke-width="1.1"/>
<circle cx="134.10" cy="258.84" r="1.25" fill="none" stroke="#2f4f6c" stroke-width="1.1"/>
<circle cx="136.26" cy="258.95" r="1.25" fill="none" stroke="#2f4f6c" stroke-width="1.1"/>
<circle cx="138.42" cy="259.23" r="1.25" fill="none" stroke="#2f4f6c" stroke-width="1.1"/>
<circle cx="140.58" cy="259.87" r="1.25" fill="none" stroke="#2f4f6c" stroke-width="1.1"/>
<circle cx="142.74" cy="261.15" r="1.25" fill="none" stroke="#2f4f6c" stroke-width="1.1"/>
<circle cx="144.90" cy="261.20" r="1.25" fill="none" stroke="#2f4f6c" stroke-width="1.1"/>
<circle cx="136.85" cy="261.69" r="1.25" fill="none" stroke="#2f4f6c" stroke-width="1.1"/>
<circle cx="139.50" cy="262.72" r="1.25" fill="none" stroke="#2f4f6c" stroke-width="1.1"/>
<circle cx="142.15" cy="263.24" r="1.25" fill="none" stroke="#2f4f6c" stroke-width="1.1"/>
<circle cx="134.10" cy="264.20" r="1.25" fill="none" stroke="#2f4f6c" stroke-width="1.1"/>
<circle cx="136.26" cy="264.51" r="1.25" fill="none" stroke="#2f4f6c" stroke-width="1.1"/>
<circle cx="138.42" cy="265.07" r="1.25" fill="none" stroke="#2f4f6c" stroke-width="1.1"/>
<circle cx="140.58" cy="266.22" r="1.25" fill="none" stroke="#2f4f6c" stroke-width="1.1"/>
<circle cx="142.74" cy="266.30" r="1.25" fill="none" stroke="#2f4f6c" stroke-width="1.1"/>
<circle cx="144.90" cy="266.45" r="1.25" fill="none" stroke="#2f4f6c" stroke-width="1.1"/>
<circle cx="135.53" cy="267.07" r="1.25" fill="none" stroke="#2f4f6c" stroke-width="1.1"/>
<circle cx="138.18" cy="267.90" r="1.25" fill="none" stroke="#2f4f6c" stroke-width="1.1"/>
<circle cx="140.82" cy="269.00" r="1.25" fill="none" stroke="#2f4f6c" stroke-width="1.1"/>
<circle cx="143.47" cy="269.09" r="1.25" fill="none" stroke="#2f4f6c" stroke-width="1.1"/>
<circle cx="135.53" cy="269.92" r="1.25" fill="none" stroke="#2f4f6c" stroke-width="1.1"/>
<circle cx="138.18" cy="270.72" r="1.25" fill="none" stroke="#2f4f6c" stroke-width="1.1"/>
<circle cx="140.82" cy="270.74" r="1.25" fill="none" stroke="#2f4f6c" stroke-width="1.1"/>
<circle cx="143.47" cy="272.07" r="1.25" fill="none" stroke="#2f4f6c" stroke-width="1.1"/>
<circle cx="139.50" cy="272.45" r="1.25" fill="none" stroke="#2f4f6c" stroke-width="1.1"/>
<circle cx="139.50" cy="276.22" r="1.25" fill="none" stroke="#2f4f6c" stroke-width="1.1"/>
<polyline points="153.65,284.30 153.65,244.82 165.85,244.82 165.85,284.30" fill="none" stroke="#48335f" stroke-width="1.4"/>
<line x1="153.65" y1="294.10" x2="153.65" y2="305.40" stroke="#48335f" stroke-width="1.4" stroke-linecap="butt"/>
<line x1="165.85" y1="294.10" x2="165.85" y2="305.40" stroke="#48335f" stroke-width="1.4" stroke-linecap="butt"/>
<line x1="159.75" y1="231.81" x2="159.75" y2="257.82" stroke="#48335f" stroke-width="1.0" stroke-linecap="butt"/>
<line x1="155.95" y1="231.81" x2="163.55" y2="231.81" stroke="#48335f" stroke-width="1.0" stroke-linecap="butt"/>
<line x1="155.95" y1="257.82" x2="163.55" y2="257.82" stroke="#48335f" stroke-width="1.0" stroke-linecap="butt"/>
<circle cx="159.75" cy="207.66" r="1.25" fill="none" stroke="#48335f" stroke-width="1.1"/>
<circle cx="159.75" cy="218.51" r="1.25" fill="none" stroke="#48335f" stroke-width="1.1"/>
<circle cx="158.43" cy="223.28" r="1.25" fill="none" stroke="#48335f" stroke-width="1.1"/>
<circle cx="161.07" cy="223.61" r="1.25" fill="none" stroke="#48335f" stroke-width="1.1"/>
<circle cx="157.10" cy="227.92" r="1.25" fill="none" stroke="#48335f" stroke-width="1.1"/>
<circle cx="159.75" cy="228.21" r="1.25" fill="none" stroke="#48335f" stroke-width="1.1"/>
<circle cx="162.40" cy="229.51" r="1.25" fill="none" stroke="#48335f" stroke-width="1.1"/>
<circle cx="157.10" cy="231.01" r="1.25" fill="none" stroke="#48335f" stroke-width="1.1"/>
<circle cx="159.75" cy="231.44" r="1.25" fill="none" stroke="#48335f" stroke-width="1.1"/>
<circle cx="162.40" cy="232.87" r="1.25" fill="none" stroke="#48335f" stroke-width="1.1"/>
<circle cx="158.43" cy="233.82" r="1.25" fill="none" stroke="#48335f" stroke-width="1.1"/>
<circle cx="161.07" cy="234.50" r="1.25" fill="none" stroke="#48335f" stroke-width="1.1"/>
<circle cx="155.78" cy="236.47" r="1.25" fill="none" stroke="#48335f" stroke-width="1.1"/>
<circle cx="158.43" cy="237.57" r="1.25" fill="none" stroke="#48335f" stroke-width="1.1"/>
<circle cx="161.07" cy="237.88" r="1.25" fill="none" stroke="#48335f" stroke-width="1.1"/>
<circle cx="163.72" cy="238.07" r="1.25" fill="none" stroke="#48335f" stroke-width="1.1"/>
<circle cx="155.78" cy="239.51" r="1.25" fill="none" stroke="#48335f" stroke-width="1.1"/>
<circle cx="158.43" cy="239.96" r="1.25" fill="none" stroke="#48335f" stroke-width="1.1"/>
<circle cx="161.07" cy="240.30" r="1.25" fill="none" stroke="#48335f" stroke-width="1.1"/>
<circle cx="163.72" cy="241.06" r="1.25" fill="none" stroke="#48335f" stroke-width="1.1"/>
<circle cx="155.78" cy="242.13" r="1.25" fill="none" stroke="#48335f" stroke-width="1.1"/>
<circle cx="158.43" cy="242.20" r="1.25" fill="none" stroke="#48335f" stroke-width="1.1"/>
<circle cx="161.07" cy="243.78" r="1.25" fill="none" stroke="#48335f" stroke-width="1.1"/>
<circle cx="163.72" cy="244.02" r="1.25" fill="none" stroke="#48335f" stroke-width="1.1"/>
<circle cx="154.45" cy="245.46" r="1.25" fill="none" stroke="#48335f" stroke-width="1.1"/>
<circle cx="157.10" cy="245.86" r="1.25" fill="none" stroke="#48335f" stroke-width="1.1"/>
<circle cx="159.75" cy="246.04" r="1.25" fill="none" stroke="#48335f" stroke-width="1.1"/>
<circle cx="162.40" cy="246.62" r="1.25" fill="none" stroke="#48335f" stroke-width="1.1"/>
<circle cx="165.05" cy="247.42" r="1.25" fill="none" stroke="#48335f" stroke-width="1.1"/>
<circle cx="157.10" cy="248.89" r="1.25" fill="none" stroke="#48335f" stroke-width="1.1"/>
<circle cx="159.75" cy="249.34" r="1.25" fill="none" stroke="#48335f" stroke-width="1.1"/>
<circle cx="162.40" cy="250.48" r="1.25" fill="none" stroke="#48335f" stroke-width="1.1"/>
<circle cx="154.45" cy="251.49" r="1.25" fill="none" stroke="#48335f" stroke-width="1.1"/>
<circle cx="157.10" cy="251.70" r="1.25" fill="none" stroke="#48335f" stroke-width="1.1"/>
<circle cx="159.75" cy="251.93" r="1.25" fill="none" stroke="#48335f" stroke-width="1.1"/>
<circle cx="162.40" cy="252.66" r="1.25" fill="none" stroke="#48335f" stroke-width="1.1"/>
<circle cx="165.05" cy="253.60" r="1.25" fill="none" stroke="#48335f" stroke-width="1.1"/>
<circle cx="158.43" cy="253.99" r="1.25" fill="none" stroke="#48335f" stroke-width="1.1"/>
<circle cx="161.07" cy="255.73" r="1.25" fill="none" stroke="#48335f" stroke-width="1.1"/>
<circle cx="155.78" cy="256.63" r="1.25" fill="none" stroke="#48335f" stroke-width="1.1"/>
<circle cx="158.43" cy="256.96" r="1.25" fill="none" stroke="#48335f" stroke-width="1.1"/>
<circle cx="161.07" cy="257.96" r="1.25" fill="none" stroke="#48335f" stroke-width="1.1"/>
<circle cx="163.72" cy="258.79" r="1.25" fill="none" stroke="#48335f" stroke-width="1.1"/>
<circle cx="154.45" cy="259.24" r="1.25" fill="none" stroke="#48335f" stroke-width="1.1"/>
<circle cx="157.10" cy="259.67" r="1.25" fill="none" stroke="#48335f" stroke-width="1.1"/>
<circle cx="159.75" cy="260.61" r="1.25" fill="none" stroke="#48335f" stroke-width="1.1"/>
<circle cx="162.40" cy="261.58" r="1.25" fill="none" stroke="#48335f" stroke-width="1.1"/>
<circle cx="165.05" cy="261.61" r="1.25" fill="none" stroke="#48335f" stroke-width="1.1"/>
<circle cx="158.43" cy="262.74" r="1.25" fill="none" stroke="#48335f" stroke-width="1.1"/>
<circle cx="161.07" cy="264.38" r="1.25" fill="none" stroke="#48335f" stroke-width="1.1"/>
<circle cx="159.75" cy="266.03" r="1.25" fill="none" stroke="#48335f" stroke-width="1.1"/>
<line x1="40.00" y1="305.40" x2="174.30" y2="305.40" stroke="#000" stroke-width="1.55" stroke-linecap="butt"/>
<line x1="58.50" y1="305.40" x2="58.50" y2="310.60" stroke="#000" stroke-width="1.55" stroke-linecap="butt"/>
<line x1="78.75" y1="305.40" x2="78.75" y2="310.60" stroke="#000" stroke-width="1.55" stroke-linecap="butt"/>
<line x1="99.00" y1="305.40" x2="99.00" y2="310.60" stroke="#000" stroke-width="1.55" stroke-linecap="butt"/>
<line x1="119.25" y1="305.40" x2="119.25" y2="310.60" stroke="#000" stroke-width="1.55" stroke-linecap="butt"/>
<line x1="139.50" y1="305.40" x2="139.50" y2="310.60" stroke="#000" stroke-width="1.55" stroke-linecap="butt"/>
<line x1="159.75" y1="305.40" x2="159.75" y2="310.60" stroke="#000" stroke-width="1.55" stroke-linecap="butt"/>
<polygon points="71.12,168.00 71.62,169.26 72.98,169.35 71.93,170.21 72.27,171.53 71.12,170.80 69.98,171.53 70.32,170.21 69.27,169.35 70.63,169.26" fill="#505050"/>
<polygon points="74.38,168.00 74.87,169.26 76.23,169.35 75.18,170.21 75.52,171.53 74.38,170.80 73.23,171.53 73.57,170.21 72.52,169.35 73.88,169.26" fill="#505050"/>
<polygon points="77.62,168.00 78.12,169.26 79.48,169.35 78.43,170.21 78.77,171.53 77.62,170.80 76.48,171.53 76.82,170.21 75.77,169.35 77.13,169.26" fill="#505050"/>
<polygon points="80.88,168.00 81.37,169.26 82.73,169.35 81.68,170.21 82.02,171.53 80.88,170.80 79.73,171.53 80.07,170.21 79.02,169.35 80.38,169.26" fill="#505050"/>
<polygon points="92.42,168.00 92.92,169.26 94.28,169.35 93.23,170.21 93.57,171.53 92.42,170.80 91.28,171.53 91.62,170.21 90.57,169.35 91.93,169.26" fill="#505050"/>
<polygon points="95.67,168.00 96.17,169.26 97.53,169.35 96.48,170.21 96.82,171.53 95.67,170.80 94.53,171.53 94.87,170.21 93.82,169.35 95.18,169.26" fill="#505050"/>
<polygon points="98.92,168.00 99.42,169.26 100.78,169.35 99.73,170.21 100.07,171.53 98.92,170.80 97.78,171.53 98.12,170.21 97.07,169.35 98.43,169.26" fill="#505050"/>
<polygon points="102.17,168.00 102.67,169.26 104.03,169.35 102.98,170.21 103.32,171.53 102.17,170.80 101.03,171.53 101.37,170.21 100.32,169.35 101.68,169.26" fill="#505050"/>
<polygon points="112.42,168.00 112.92,169.26 114.28,169.35 113.23,170.21 113.57,171.53 112.42,170.80 111.28,171.53 111.62,170.21 110.57,169.35 111.93,169.26" fill="#505050"/>
<polygon points="115.67,168.00 116.17,169.26 117.53,169.35 116.48,170.21 116.82,171.53 115.67,170.80 114.53,171.53 114.87,170.21 113.82,169.35 115.18,169.26" fill="#505050"/>
<polygon points="118.92,168.00 119.42,169.26 120.78,169.35 119.73,170.21 120.07,171.53 118.92,170.80 117.78,171.53 118.12,170.21 117.07,169.35 118.43,169.26" fill="#505050"/>
<polygon points="122.17,168.00 122.67,169.26 124.03,169.35 122.98,170.21 123.32,171.53 122.17,170.80 121.03,171.53 121.37,170.21 120.32,169.35 121.68,169.26" fill="#505050"/>
<polygon points="132.53,168.00 133.02,169.26 134.38,169.35 133.33,170.21 133.67,171.53 132.53,170.80 131.38,171.53 131.72,170.21 130.67,169.35 132.03,169.26" fill="#505050"/>
<polygon points="135.78,168.00 136.27,169.26 137.63,169.35 136.58,170.21 136.92,171.53 135.78,170.80 134.63,171.53 134.97,170.21 133.92,169.35 135.28,169.26" fill="#505050"/>
<polygon points="139.03,168.00 139.52,169.26 140.88,169.35 139.83,170.21 140.17,171.53 139.03,170.80 137.88,171.53 138.22,170.21 137.17,169.35 138.53,169.26" fill="#505050"/>
<polygon points="142.28,168.00 142.77,169.26 144.13,169.35 143.08,170.21 143.42,171.53 142.28,170.80 141.13,171.53 141.47,170.21 140.42,169.35 141.78,169.26" fill="#505050"/>
<polygon points="154.03,168.00 154.52,169.26 155.88,169.35 154.83,170.21 155.17,171.53 154.03,170.80 152.88,171.53 153.22,170.21 152.17,169.35 153.53,169.26" fill="#505050"/>
<polygon points="157.28,168.00 157.77,169.26 159.13,169.35 158.08,170.21 158.42,171.53 157.28,170.80 156.13,171.53 156.47,170.21 155.42,169.35 156.78,169.26" fill="#505050"/>
<polygon points="160.53,168.00 161.02,169.26 162.38,169.35 161.33,170.21 161.67,171.53 160.53,170.80 159.38,171.53 159.72,170.21 158.67,169.35 160.03,169.26" fill="#505050"/>
<polygon points="163.78,168.00 164.27,169.26 165.63,169.35 164.58,170.21 164.92,171.53 163.78,170.80 162.63,171.53 162.97,170.21 161.92,169.35 163.28,169.26" fill="#505050"/>
<circle cx="178.00" cy="200.40" r="1.3" fill="none" stroke="#4163a2" stroke-width="1.15"/>
<text x="184.60" y="204.20" font-size="10" text-anchor="start" fill="#1a1a1a" stroke="#1a1a1a" stroke-width="0.22" font-weight="normal" >LSSTM</text>
<circle cx="178.00" cy="217.85" r="1.3" fill="none" stroke="#5f409c" stroke-width="1.15"/>
<text x="184.60" y="221.65" font-size="10" text-anchor="start" fill="#1a1a1a" stroke="#1a1a1a" stroke-width="0.22" font-weight="normal" >STM</text>
<circle cx="178.00" cy="235.30" r="1.3" fill="none" stroke="#983ea6" stroke-width="1.15"/>
<text x="184.60" y="239.10" font-size="10" text-anchor="start" fill="#1a1a1a" stroke="#1a1a1a" stroke-width="0.22" font-weight="normal" >SVM</text>
<circle cx="178.00" cy="252.75" r="1.3" fill="none" stroke="#5a9a42" stroke-width="1.15"/>
<text x="184.60" y="256.55" font-size="10" text-anchor="start" fill="#1a1a1a" stroke="#1a1a1a" stroke-width="0.22" font-weight="normal" >adaBoost</text>
<circle cx="178.00" cy="270.20" r="1.3" fill="none" stroke="#2f4f6c" stroke-width="1.15"/>
<text x="184.60" y="274.00" font-size="10" text-anchor="start" fill="#1a1a1a" stroke="#1a1a1a" stroke-width="0.22" font-weight="normal" >LR</text>
<circle cx="178.00" cy="287.65" r="1.3" fill="none" stroke="#48335f" stroke-width="1.15"/>
<text x="184.60" y="291.45" font-size="10" text-anchor="start" fill="#1a1a1a" stroke="#1a1a1a" stroke-width="0.22" font-weight="normal" >RF</text>
<text x="19.60" y="240.50" font-size="10" text-anchor="middle" fill="#1a1a1a" stroke="#1a1a1a" stroke-width="0.22" font-weight="normal" transform="rotate(-90 19.6 240.5)">Accuracy in Human Brain</text>
<text x="224.50" y="171.00" font-size="14" text-anchor="start" fill="#111" stroke="#111" stroke-width="0.22" font-weight="bold" >F</text>
<line x1="254.40" y1="174.70" x2="254.40" y2="281.50" stroke="#000" stroke-width="1.55" stroke-linecap="butt"/>
<line x1="254.40" y1="290.50" x2="254.40" y2="304.70" stroke="#000" stroke-width="1.55" stroke-linecap="butt"/>
<line x1="249.40" y1="175.30" x2="254.40" y2="175.30" stroke="#000" stroke-width="1.55" stroke-linecap="butt"/>
<text x="248.20" y="178.40" font-size="9.6" text-anchor="end" fill="#1a1a1a" stroke="#1a1a1a" stroke-width="0.22" font-weight="normal" >100</text>
<line x1="249.40" y1="194.76" x2="254.40" y2="194.76" stroke="#000" stroke-width="1.55" stroke-linecap="butt"/>
<text x="248.20" y="197.86" font-size="9.6" text-anchor="end" fill="#1a1a1a" stroke="#1a1a1a" stroke-width="0.22" font-weight="normal" >90</text>
<line x1="249.40" y1="214.22" x2="254.40" y2="214.22" stroke="#000" stroke-width="1.55" stroke-linecap="butt"/>
<text x="248.20" y="217.32" font-size="9.6" text-anchor="end" fill="#1a1a1a" stroke="#1a1a1a" stroke-width="0.22" font-weight="normal" >80</text>
<line x1="249.40" y1="233.68" x2="254.40" y2="233.68" stroke="#000" stroke-width="1.55" stroke-linecap="butt"/>
<text x="248.20" y="236.78" font-size="9.6" text-anchor="end" fill="#1a1a1a" stroke="#1a1a1a" stroke-width="0.22" font-weight="normal" >70</text>
<line x1="249.40" y1="253.14" x2="254.40" y2="253.14" stroke="#000" stroke-width="1.55" stroke-linecap="butt"/>
<text x="248.20" y="256.24" font-size="9.6" text-anchor="end" fill="#1a1a1a" stroke="#1a1a1a" stroke-width="0.22" font-weight="normal" >60</text>
<line x1="249.40" y1="272.60" x2="254.40" y2="272.60" stroke="#000" stroke-width="1.55" stroke-linecap="butt"/>
<text x="248.20" y="275.70" font-size="9.6" text-anchor="end" fill="#1a1a1a" stroke="#1a1a1a" stroke-width="0.22" font-weight="normal" >50</text>
<text x="248.20" y="307.20" font-size="9.6" text-anchor="end" fill="#1a1a1a" stroke="#1a1a1a" stroke-width="0.22" font-weight="normal" >0</text>
<line x1="251.90" y1="279.95" x2="258.30" y2="285.05" stroke="#000" stroke-width="1.5" stroke-linecap="butt"/>
<line x1="251.90" y1="289.05" x2="258.30" y2="294.15" stroke="#000" stroke-width="1.5" stroke-linecap="butt"/>
<line x1="249.00" y1="303.80" x2="341.00" y2="303.80" stroke="#000" stroke-width="1.55" stroke-linecap="butt"/>
<line x1="279.40" y1="303.80" x2="279.40" y2="309.00" stroke="#000" stroke-width="1.55" stroke-linecap="butt"/>
<line x1="315.60" y1="303.80" x2="315.60" y2="309.00" stroke="#000" stroke-width="1.55" stroke-linecap="butt"/>
<text x="279.40" y="319.40" font-size="10" text-anchor="middle" fill="#1a1a1a" stroke="#1a1a1a" stroke-width="0.22" font-weight="normal" >LSSTM</text>
<text x="315.60" y="319.40" font-size="10" text-anchor="middle" fill="#1a1a1a" stroke="#1a1a1a" stroke-width="0.22" font-weight="normal" >STM</text>
<line x1="279.00" y1="270.26" x2="315.60" y2="272.99" stroke="#2fa0b2" stroke-width="0.9" stroke-linecap="butt"/>
<line x1="279.00" y1="268.71" x2="315.60" y2="271.43" stroke="#2fa0b2" stroke-width="0.9" stroke-linecap="butt"/>
<line x1="279.00" y1="264.23" x2="315.60" y2="266.37" stroke="#2fa0b2" stroke-width="0.9" stroke-linecap="butt"/>
<line x1="279.00" y1="252.64" x2="315.60" y2="265.59" stroke="#2fa0b2" stroke-width="0.9" stroke-linecap="butt"/>
<line x1="279.00" y1="262.87" x2="315.60" y2="260.34" stroke="#2fa0b2" stroke-width="0.9" stroke-linecap="butt"/>
<line x1="279.00" y1="238.31" x2="315.60" y2="259.95" stroke="#2fa0b2" stroke-width="0.9" stroke-linecap="butt"/>
<line x1="279.00" y1="239.15" x2="315.60" y2="256.21" stroke="#2fa0b2" stroke-width="0.9" stroke-linecap="butt"/>
<line x1="279.00" y1="234.06" x2="315.60" y2="253.92" stroke="#2fa0b2" stroke-width="0.9" stroke-linecap="butt"/>
<line x1="279.00" y1="241.61" x2="315.60" y2="252.21" stroke="#2fa0b2" stroke-width="0.9" stroke-linecap="butt"/>
<line x1="279.00" y1="249.92" x2="315.60" y2="252.02" stroke="#2fa0b2" stroke-width="0.9" stroke-linecap="butt"/>
<line x1="279.00" y1="248.96" x2="315.60" y2="250.71" stroke="#2fa0b2" stroke-width="0.9" stroke-linecap="butt"/>
<line x1="279.00" y1="223.97" x2="315.60" y2="248.93" stroke="#2fa0b2" stroke-width="0.9" stroke-linecap="butt"/>
<line x1="279.00" y1="224.38" x2="315.60" y2="248.04" stroke="#2fa0b2" stroke-width="0.9" stroke-linecap="butt"/>
<line x1="279.00" y1="221.60" x2="315.60" y2="245.71" stroke="#2fa0b2" stroke-width="0.9" stroke-linecap="butt"/>
<line x1="279.00" y1="246.06" x2="315.60" y2="245.19" stroke="#2fa0b2" stroke-width="0.9" stroke-linecap="butt"/>
<line x1="279.00" y1="247.53" x2="315.60" y2="242.72" stroke="#2fa0b2" stroke-width="0.9" stroke-linecap="butt"/>
<line x1="279.00" y1="240.46" x2="315.60" y2="242.25" stroke="#2fa0b2" stroke-width="0.9" stroke-linecap="butt"/>
<line x1="279.00" y1="240.63" x2="315.60" y2="240.39" stroke="#2fa0b2" stroke-width="0.9" stroke-linecap="butt"/>
<line x1="279.00" y1="228.91" x2="315.60" y2="239.02" stroke="#2fa0b2" stroke-width="0.9" stroke-linecap="butt"/>
<line x1="279.00" y1="242.99" x2="315.60" y2="238.87" stroke="#2fa0b2" stroke-width="0.9" stroke-linecap="butt"/>
<line x1="279.00" y1="254.44" x2="315.60" y2="237.44" stroke="#2fa0b2" stroke-width="0.9" stroke-linecap="butt"/>
<line x1="279.00" y1="251.30" x2="315.60" y2="236.97" stroke="#2fa0b2" stroke-width="0.9" stroke-linecap="butt"/>
<line x1="279.00" y1="222.19" x2="315.60" y2="236.55" stroke="#2fa0b2" stroke-width="0.9" stroke-linecap="butt"/>
<line x1="279.00" y1="245.24" x2="315.60" y2="235.48" stroke="#2fa0b2" stroke-width="0.9" stroke-linecap="butt"/>
<line x1="279.00" y1="225.56" x2="315.60" y2="234.88" stroke="#2fa0b2" stroke-width="0.9" stroke-linecap="butt"/>
<line x1="279.00" y1="232.50" x2="315.60" y2="232.94" stroke="#2fa0b2" stroke-width="0.9" stroke-linecap="butt"/>
<line x1="279.00" y1="231.43" x2="315.60" y2="232.05" stroke="#2fa0b2" stroke-width="0.9" stroke-linecap="butt"/>
<line x1="279.00" y1="241.84" x2="315.60" y2="231.76" stroke="#2fa0b2" stroke-width="0.9" stroke-linecap="butt"/>
<line x1="279.00" y1="232.42" x2="315.60" y2="231.66" stroke="#2fa0b2" stroke-width="0.9" stroke-linecap="butt"/>
<line x1="279.00" y1="243.88" x2="315.60" y2="230.52" stroke="#2fa0b2" stroke-width="0.9" stroke-linecap="butt"/>
<line x1="279.00" y1="224.16" x2="315.60" y2="228.81" stroke="#2fa0b2" stroke-width="0.9" stroke-linecap="butt"/>
<line x1="279.00" y1="225.09" x2="315.60" y2="228.41" stroke="#2fa0b2" stroke-width="0.9" stroke-linecap="butt"/>
<line x1="279.00" y1="229.80" x2="315.60" y2="228.25" stroke="#2fa0b2" stroke-width="0.9" stroke-linecap="butt"/>
<line x1="279.00" y1="227.55" x2="315.60" y2="227.02" stroke="#2fa0b2" stroke-width="0.9" stroke-linecap="butt"/>
<line x1="279.00" y1="248.80" x2="315.60" y2="225.25" stroke="#2fa0b2" stroke-width="0.9" stroke-linecap="butt"/>
<line x1="279.00" y1="214.22" x2="315.60" y2="225.18" stroke="#2fa0b2" stroke-width="0.9" stroke-linecap="butt"/>
<line x1="279.00" y1="227.52" x2="315.60" y2="224.07" stroke="#2fa0b2" stroke-width="0.9" stroke-linecap="butt"/>
<line x1="279.00" y1="216.94" x2="315.60" y2="223.66" stroke="#2fa0b2" stroke-width="0.9" stroke-linecap="butt"/>
<line x1="279.00" y1="219.92" x2="315.60" y2="223.27" stroke="#2fa0b2" stroke-width="0.9" stroke-linecap="butt"/>
<line x1="279.00" y1="215.58" x2="315.60" y2="220.75" stroke="#2fa0b2" stroke-width="0.9" stroke-linecap="butt"/>
<line x1="279.00" y1="217.81" x2="315.60" y2="219.52" stroke="#2fa0b2" stroke-width="0.9" stroke-linecap="butt"/>
<line x1="279.00" y1="226.69" x2="315.60" y2="219.48" stroke="#2fa0b2" stroke-width="0.9" stroke-linecap="butt"/>
<line x1="279.00" y1="220.34" x2="315.60" y2="217.63" stroke="#2fa0b2" stroke-width="0.9" stroke-linecap="butt"/>
<line x1="279.00" y1="205.66" x2="315.60" y2="217.38" stroke="#2fa0b2" stroke-width="0.9" stroke-linecap="butt"/>
<line x1="279.00" y1="219.44" x2="315.60" y2="215.88" stroke="#2fa0b2" stroke-width="0.9" stroke-linecap="butt"/>
<line x1="279.00" y1="221.58" x2="315.60" y2="215.70" stroke="#2fa0b2" stroke-width="0.9" stroke-linecap="butt"/>
<line x1="279.00" y1="218.17" x2="315.60" y2="214.46" stroke="#2fa0b2" stroke-width="0.9" stroke-linecap="butt"/>
<line x1="279.00" y1="221.93" x2="315.60" y2="213.53" stroke="#2fa0b2" stroke-width="0.9" stroke-linecap="butt"/>
<line x1="279.00" y1="206.05" x2="315.60" y2="211.88" stroke="#2fa0b2" stroke-width="0.9" stroke-linecap="butt"/>
<line x1="279.00" y1="218.09" x2="315.60" y2="211.11" stroke="#2fa0b2" stroke-width="0.9" stroke-linecap="butt"/>
<line x1="279.00" y1="205.27" x2="315.60" y2="203.13" stroke="#2fa0b2" stroke-width="0.9" stroke-linecap="butt"/>
<circle cx="279.00" cy="270.26" r="1.35" fill="#6a78bc" stroke="#4858a6" stroke-width="0.9"/>
<circle cx="279.00" cy="268.71" r="1.35" fill="#6a78bc" stroke="#4858a6" stroke-width="0.9"/>
<circle cx="279.00" cy="264.23" r="1.35" fill="#6a78bc" stroke="#4858a6" stroke-width="0.9"/>
<circle cx="279.00" cy="252.64" r="1.35" fill="#6a78bc" stroke="#4858a6" stroke-width="0.9"/>
<circle cx="279.00" cy="262.87" r="1.35" fill="#6a78bc" stroke="#4858a6" stroke-width="0.9"/>
<circle cx="279.00" cy="238.31" r="1.35" fill="#6a78bc" stroke="#4858a6" stroke-width="0.9"/>
<circle cx="279.00" cy="239.15" r="1.35" fill="#6a78bc" stroke="#4858a6" stroke-width="0.9"/>
<circle cx="279.00" cy="234.06" r="1.35" fill="#6a78bc" stroke="#4858a6" stroke-width="0.9"/>
<circle cx="279.00" cy="241.61" r="1.35" fill="#6a78bc" stroke="#4858a6" stroke-width="0.9"/>
<circle cx="279.00" cy="249.92" r="1.35" fill="#6a78bc" stroke="#4858a6" stroke-width="0.9"/>
<circle cx="279.00" cy="248.96" r="1.35" fill="#6a78bc" stroke="#4858a6" stroke-width="0.9"/>
<circle cx="279.00" cy="223.97" r="1.35" fill="#6a78bc" stroke="#4858a6" stroke-width="0.9"/>
<circle cx="279.00" cy="224.38" r="1.35" fill="#6a78bc" stroke="#4858a6" stroke-width="0.9"/>
<circle cx="279.00" cy="221.60" r="1.35" fill="#6a78bc" stroke="#4858a6" stroke-width="0.9"/>
<circle cx="279.00" cy="246.06" r="1.35" fill="#6a78bc" stroke="#4858a6" stroke-width="0.9"/>
<circle cx="279.00" cy="247.53" r="1.35" fill="#6a78bc" stroke="#4858a6" stroke-width="0.9"/>
<circle cx="279.00" cy="240.46" r="1.35" fill="#6a78bc" stroke="#4858a6" stroke-width="0.9"/>
<circle cx="279.00" cy="240.63" r="1.35" fill="#6a78bc" stroke="#4858a6" stroke-width="0.9"/>
<circle cx="279.00" cy="228.91" r="1.35" fill="#6a78bc" stroke="#4858a6" stroke-width="0.9"/>
<circle cx="279.00" cy="242.99" r="1.35" fill="#6a78bc" stroke="#4858a6" stroke-width="0.9"/>
<circle cx="279.00" cy="254.44" r="1.35" fill="#6a78bc" stroke="#4858a6" stroke-width="0.9"/>
<circle cx="279.00" cy="251.30" r="1.35" fill="#6a78bc" stroke="#4858a6" stroke-width="0.9"/>
<circle cx="279.00" cy="222.19" r="1.35" fill="#6a78bc" stroke="#4858a6" stroke-width="0.9"/>
<circle cx="279.00" cy="245.24" r="1.35" fill="#6a78bc" stroke="#4858a6" stroke-width="0.9"/>
<circle cx="279.00" cy="225.56" r="1.35" fill="#6a78bc" stroke="#4858a6" stroke-width="0.9"/>
<circle cx="279.00" cy="232.50" r="1.35" fill="#6a78bc" stroke="#4858a6" stroke-width="0.9"/>
<circle cx="279.00" cy="231.43" r="1.35" fill="#6a78bc" stroke="#4858a6" stroke-width="0.9"/>
<circle cx="279.00" cy="241.84" r="1.35" fill="#6a78bc" stroke="#4858a6" stroke-width="0.9"/>
<circle cx="279.00" cy="232.42" r="1.35" fill="#6a78bc" stroke="#4858a6" stroke-width="0.9"/>
<circle cx="279.00" cy="243.88" r="1.35" fill="#6a78bc" stroke="#4858a6" stroke-width="0.9"/>
<circle cx="279.00" cy="224.16" r="1.35" fill="#6a78bc" stroke="#4858a6" stroke-width="0.9"/>
<circle cx="279.00" cy="225.09" r="1.35" fill="#6a78bc" stroke="#4858a6" stroke-width="0.9"/>
<circle cx="279.00" cy="229.80" r="1.35" fill="#6a78bc" stroke="#4858a6" stroke-width="0.9"/>
<circle cx="279.00" cy="227.55" r="1.35" fill="#6a78bc" stroke="#4858a6" stroke-width="0.9"/>
<circle cx="279.00" cy="248.80" r="1.35" fill="#6a78bc" stroke="#4858a6" stroke-width="0.9"/>
<circle cx="279.00" cy="214.22" r="1.35" fill="#6a78bc" stroke="#4858a6" stroke-width="0.9"/>
<circle cx="279.00" cy="227.52" r="1.35" fill="#6a78bc" stroke="#4858a6" stroke-width="0.9"/>
<circle cx="279.00" cy="216.94" r="1.35" fill="#6a78bc" stroke="#4858a6" stroke-width="0.9"/>
<circle cx="279.00" cy="219.92" r="1.35" fill="#6a78bc" stroke="#4858a6" stroke-width="0.9"/>
<circle cx="279.00" cy="215.58" r="1.35" fill="#6a78bc" stroke="#4858a6" stroke-width="0.9"/>
<circle cx="279.00" cy="217.81" r="1.35" fill="#6a78bc" stroke="#4858a6" stroke-width="0.9"/>
<circle cx="279.00" cy="226.69" r="1.35" fill="#6a78bc" stroke="#4858a6" stroke-width="0.9"/>
<circle cx="279.00" cy="220.34" r="1.35" fill="#6a78bc" stroke="#4858a6" stroke-width="0.9"/>
<circle cx="279.00" cy="205.66" r="1.35" fill="#6a78bc" stroke="#4858a6" stroke-width="0.9"/>
<circle cx="279.00" cy="219.44" r="1.35" fill="#6a78bc" stroke="#4858a6" stroke-width="0.9"/>
<circle cx="279.00" cy="221.58" r="1.35" fill="#6a78bc" stroke="#4858a6" stroke-width="0.9"/>
<circle cx="279.00" cy="218.17" r="1.35" fill="#6a78bc" stroke="#4858a6" stroke-width="0.9"/>
<circle cx="279.00" cy="221.93" r="1.35" fill="#6a78bc" stroke="#4858a6" stroke-width="0.9"/>
<circle cx="279.00" cy="206.05" r="1.35" fill="#6a78bc" stroke="#4858a6" stroke-width="0.9"/>
<circle cx="279.00" cy="218.09" r="1.35" fill="#6a78bc" stroke="#4858a6" stroke-width="0.9"/>
<circle cx="279.00" cy="205.27" r="1.35" fill="#6a78bc" stroke="#4858a6" stroke-width="0.9"/>
<circle cx="315.60" cy="272.99" r="1.35" fill="#9680c8" stroke="#6a4aa8" stroke-width="0.9"/>
<circle cx="315.60" cy="271.43" r="1.35" fill="#9680c8" stroke="#6a4aa8" stroke-width="0.9"/>
<circle cx="315.60" cy="266.37" r="1.35" fill="#9680c8" stroke="#6a4aa8" stroke-width="0.9"/>
<circle cx="315.60" cy="265.59" r="1.35" fill="#9680c8" stroke="#6a4aa8" stroke-width="0.9"/>
<circle cx="315.60" cy="260.34" r="1.35" fill="#9680c8" stroke="#6a4aa8" stroke-width="0.9"/>
<circle cx="315.60" cy="259.95" r="1.35" fill="#9680c8" stroke="#6a4aa8" stroke-width="0.9"/>
<circle cx="315.60" cy="256.21" r="1.35" fill="#9680c8" stroke="#6a4aa8" stroke-width="0.9"/>
<circle cx="315.60" cy="253.92" r="1.35" fill="#9680c8" stroke="#6a4aa8" stroke-width="0.9"/>
<circle cx="315.60" cy="252.21" r="1.35" fill="#9680c8" stroke="#6a4aa8" stroke-width="0.9"/>
<circle cx="315.60" cy="252.02" r="1.35" fill="#9680c8" stroke="#6a4aa8" stroke-width="0.9"/>
<circle cx="315.60" cy="250.71" r="1.35" fill="#9680c8" stroke="#6a4aa8" stroke-width="0.9"/>
<circle cx="315.60" cy="248.93" r="1.35" fill="#9680c8" stroke="#6a4aa8" stroke-width="0.9"/>
<circle cx="315.60" cy="248.04" r="1.35" fill="#9680c8" stroke="#6a4aa8" stroke-width="0.9"/>
<circle cx="315.60" cy="245.71" r="1.35" fill="#9680c8" stroke="#6a4aa8" stroke-width="0.9"/>
<circle cx="315.60" cy="245.19" r="1.35" fill="#9680c8" stroke="#6a4aa8" stroke-width="0.9"/>
<circle cx="315.60" cy="242.72" r="1.35" fill="#9680c8" stroke="#6a4aa8" stroke-width="0.9"/>
<circle cx="315.60" cy="242.25" r="1.35" fill="#9680c8" stroke="#6a4aa8" stroke-width="0.9"/>
<circle cx="315.60" cy="240.39" r="1.35" fill="#9680c8" stroke="#6a4aa8" stroke-width="0.9"/>
<circle cx="315.60" cy="239.02" r="1.35" fill="#9680c8" stroke="#6a4aa8" stroke-width="0.9"/>
<circle cx="315.60" cy="238.87" r="1.35" fill="#9680c8" stroke="#6a4aa8" stroke-width="0.9"/>
<circle cx="315.60" cy="237.44" r="1.35" fill="#9680c8" stroke="#6a4aa8" stroke-width="0.9"/>
<circle cx="315.60" cy="236.97" r="1.35" fill="#9680c8" stroke="#6a4aa8" stroke-width="0.9"/>
<circle cx="315.60" cy="236.55" r="1.35" fill="#9680c8" stroke="#6a4aa8" stroke-width="0.9"/>
<circle cx="315.60" cy="235.48" r="1.35" fill="#9680c8" stroke="#6a4aa8" stroke-width="0.9"/>
<circle cx="315.60" cy="234.88" r="1.35" fill="#9680c8" stroke="#6a4aa8" stroke-width="0.9"/>
<circle cx="315.60" cy="232.94" r="1.35" fill="#9680c8" stroke="#6a4aa8" stroke-width="0.9"/>
<circle cx="315.60" cy="232.05" r="1.35" fill="#9680c8" stroke="#6a4aa8" stroke-width="0.9"/>
<circle cx="315.60" cy="231.76" r="1.35" fill="#9680c8" stroke="#6a4aa8" stroke-width="0.9"/>
<circle cx="315.60" cy="231.66" r="1.35" fill="#9680c8" stroke="#6a4aa8" stroke-width="0.9"/>
<circle cx="315.60" cy="230.52" r="1.35" fill="#9680c8" stroke="#6a4aa8" stroke-width="0.9"/>
<circle cx="315.60" cy="228.81" r="1.35" fill="#9680c8" stroke="#6a4aa8" stroke-width="0.9"/>
<circle cx="315.60" cy="228.41" r="1.35" fill="#9680c8" stroke="#6a4aa8" stroke-width="0.9"/>
<circle cx="315.60" cy="228.25" r="1.35" fill="#9680c8" stroke="#6a4aa8" stroke-width="0.9"/>
<circle cx="315.60" cy="227.02" r="1.35" fill="#9680c8" stroke="#6a4aa8" stroke-width="0.9"/>
<circle cx="315.60" cy="225.25" r="1.35" fill="#9680c8" stroke="#6a4aa8" stroke-width="0.9"/>
<circle cx="315.60" cy="225.18" r="1.35" fill="#9680c8" stroke="#6a4aa8" stroke-width="0.9"/>
<circle cx="315.60" cy="224.07" r="1.35" fill="#9680c8" stroke="#6a4aa8" stroke-width="0.9"/>
<circle cx="315.60" cy="223.66" r="1.35" fill="#9680c8" stroke="#6a4aa8" stroke-width="0.9"/>
<circle cx="315.60" cy="223.27" r="1.35" fill="#9680c8" stroke="#6a4aa8" stroke-width="0.9"/>
<circle cx="315.60" cy="220.75" r="1.35" fill="#9680c8" stroke="#6a4aa8" stroke-width="0.9"/>
<circle cx="315.60" cy="219.52" r="1.35" fill="#9680c8" stroke="#6a4aa8" stroke-width="0.9"/>
<circle cx="315.60" cy="219.48" r="1.35" fill="#9680c8" stroke="#6a4aa8" stroke-width="0.9"/>
<circle cx="315.60" cy="217.63" r="1.35" fill="#9680c8" stroke="#6a4aa8" stroke-width="0.9"/>
<circle cx="315.60" cy="217.38" r="1.35" fill="#9680c8" stroke="#6a4aa8" stroke-width="0.9"/>
<circle cx="315.60" cy="215.88" r="1.35" fill="#9680c8" stroke="#6a4aa8" stroke-width="0.9"/>
<circle cx="315.60" cy="215.70" r="1.35" fill="#9680c8" stroke="#6a4aa8" stroke-width="0.9"/>
<circle cx="315.60" cy="214.46" r="1.35" fill="#9680c8" stroke="#6a4aa8" stroke-width="0.9"/>
<circle cx="315.60" cy="213.53" r="1.35" fill="#9680c8" stroke="#6a4aa8" stroke-width="0.9"/>
<circle cx="315.60" cy="211.88" r="1.35" fill="#9680c8" stroke="#6a4aa8" stroke-width="0.9"/>
<circle cx="315.60" cy="211.11" r="1.35" fill="#9680c8" stroke="#6a4aa8" stroke-width="0.9"/>
<circle cx="315.60" cy="203.13" r="1.35" fill="#9680c8" stroke="#6a4aa8" stroke-width="0.9"/>
<polyline points="279.20,197.80 279.20,188.10 315.80,188.10 315.80,200.30" fill="none" stroke="#000" stroke-width="1.7"/>
<polygon points="290.92,184.05 291.34,185.08 292.45,185.16 291.59,185.87 291.87,186.94 290.92,186.35 289.98,186.94 290.26,185.87 289.40,185.16 290.51,185.08" fill="#333"/>
<polygon points="294.57,184.05 294.99,185.08 296.10,185.16 295.24,185.87 295.52,186.94 294.57,186.35 293.63,186.94 293.91,185.87 293.05,185.16 294.16,185.08" fill="#333"/>
<polygon points="298.22,184.05 298.64,185.08 299.75,185.16 298.89,185.87 299.17,186.94 298.22,186.35 297.28,186.94 297.56,185.87 296.70,185.16 297.81,185.08" fill="#333"/>
<polygon points="301.87,184.05 302.29,185.08 303.40,185.16 302.54,185.87 302.82,186.94 301.87,186.35 300.93,186.94 301.21,185.87 300.35,185.16 301.46,185.08" fill="#333"/>
<text x="339.50" y="170.80" font-size="14" text-anchor="start" fill="#111" stroke="#111" stroke-width="0.22" font-weight="bold" >G</text>
<line x1="374.50" y1="173.80" x2="374.50" y2="281.00" stroke="#000" stroke-width="1.55" stroke-linecap="butt"/>
<line x1="374.50" y1="290.00" x2="374.50" y2="303.70" stroke="#000" stroke-width="1.55" stroke-linecap="butt"/>
<line x1="369.50" y1="174.40" x2="374.50" y2="174.40" stroke="#000" stroke-width="1.55" stroke-linecap="butt"/>
<text x="368.30" y="177.50" font-size="9.6" text-anchor="end" fill="#1a1a1a" stroke="#1a1a1a" stroke-width="0.22" font-weight="normal" >100</text>
<line x1="369.50" y1="193.82" x2="374.50" y2="193.82" stroke="#000" stroke-width="1.55" stroke-linecap="butt"/>
<text x="368.30" y="196.92" font-size="9.6" text-anchor="end" fill="#1a1a1a" stroke="#1a1a1a" stroke-width="0.22" font-weight="normal" >90</text>
<line x1="369.50" y1="213.24" x2="374.50" y2="213.24" stroke="#000" stroke-width="1.55" stroke-linecap="butt"/>
<text x="368.30" y="216.34" font-size="9.6" text-anchor="end" fill="#1a1a1a" stroke="#1a1a1a" stroke-width="0.22" font-weight="normal" >80</text>
<line x1="369.50" y1="232.66" x2="374.50" y2="232.66" stroke="#000" stroke-width="1.55" stroke-linecap="butt"/>
<text x="368.30" y="235.76" font-size="9.6" text-anchor="end" fill="#1a1a1a" stroke="#1a1a1a" stroke-width="0.22" font-weight="normal" >70</text>
<line x1="369.50" y1="252.08" x2="374.50" y2="252.08" stroke="#000" stroke-width="1.55" stroke-linecap="butt"/>
<text x="368.30" y="255.18" font-size="9.6" text-anchor="end" fill="#1a1a1a" stroke="#1a1a1a" stroke-width="0.22" font-weight="normal" >60</text>
<line x1="369.50" y1="271.50" x2="374.50" y2="271.50" stroke="#000" stroke-width="1.55" stroke-linecap="butt"/>
<text x="368.30" y="274.60" font-size="9.6" text-anchor="end" fill="#1a1a1a" stroke="#1a1a1a" stroke-width="0.22" font-weight="normal" >50</text>
<text x="368.30" y="306.20" font-size="9.6" text-anchor="end" fill="#1a1a1a" stroke="#1a1a1a" stroke-width="0.22" font-weight="normal" >0</text>
<line x1="371.80" y1="279.15" x2="378.20" y2="284.25" stroke="#000" stroke-width="1.5" stroke-linecap="butt"/>
<line x1="371.80" y1="288.85" x2="378.20" y2="293.95" stroke="#000" stroke-width="1.5" stroke-linecap="butt"/>
<line x1="369.00" y1="303.00" x2="460.80" y2="303.00" stroke="#000" stroke-width="1.55" stroke-linecap="butt"/>
<line x1="398.80" y1="303.00" x2="398.80" y2="308.20" stroke="#000" stroke-width="1.55" stroke-linecap="butt"/>
<line x1="435.30" y1="303.00" x2="435.30" y2="308.20" stroke="#000" stroke-width="1.55" stroke-linecap="butt"/>
<text x="401.80" y="318.80" font-size="10" text-anchor="middle" fill="#1a1a1a" stroke="#1a1a1a" stroke-width="0.22" font-weight="normal" >LSSTM</text>
<text x="438.70" y="318.80" font-size="10" text-anchor="middle" fill="#1a1a1a" stroke="#1a1a1a" stroke-width="0.22" font-weight="normal" >RF</text>
<line x1="398.75" y1="263.15" x2="435.50" y2="279.27" stroke="#2fa0b2" stroke-width="0.9" stroke-linecap="butt"/>
<line x1="398.75" y1="269.17" x2="435.50" y2="277.33" stroke="#2fa0b2" stroke-width="0.9" stroke-linecap="butt"/>
<line x1="398.75" y1="267.62" x2="435.50" y2="275.38" stroke="#2fa0b2" stroke-width="0.9" stroke-linecap="butt"/>
<line x1="398.75" y1="239.60" x2="435.50" y2="274.05" stroke="#2fa0b2" stroke-width="0.9" stroke-linecap="butt"/>
<line x1="398.75" y1="248.86" x2="435.50" y2="274.01" stroke="#2fa0b2" stroke-width="0.9" stroke-linecap="butt"/>
<line x1="398.75" y1="231.40" x2="435.50" y2="272.86" stroke="#2fa0b2" stroke-width="0.9" stroke-linecap="butt"/>
<line x1="398.75" y1="247.75" x2="435.50" y2="271.76" stroke="#2fa0b2" stroke-width="0.9" stroke-linecap="butt"/>
<line x1="398.75" y1="246.48" x2="435.50" y2="271.25" stroke="#2fa0b2" stroke-width="0.9" stroke-linecap="butt"/>
<line x1="398.75" y1="261.79" x2="435.50" y2="270.72" stroke="#2fa0b2" stroke-width="0.9" stroke-linecap="butt"/>
<line x1="398.75" y1="245.02" x2="435.50" y2="269.74" stroke="#2fa0b2" stroke-width="0.9" stroke-linecap="butt"/>
<line x1="398.75" y1="247.90" x2="435.50" y2="268.56" stroke="#2fa0b2" stroke-width="0.9" stroke-linecap="butt"/>
<line x1="398.75" y1="238.12" x2="435.50" y2="268.17" stroke="#2fa0b2" stroke-width="0.9" stroke-linecap="butt"/>
<line x1="398.75" y1="251.58" x2="435.50" y2="267.11" stroke="#2fa0b2" stroke-width="0.9" stroke-linecap="butt"/>
<line x1="398.75" y1="237.28" x2="435.50" y2="265.05" stroke="#2fa0b2" stroke-width="0.9" stroke-linecap="butt"/>
<line x1="398.75" y1="227.90" x2="435.50" y2="264.59" stroke="#2fa0b2" stroke-width="0.9" stroke-linecap="butt"/>
<line x1="398.75" y1="244.20" x2="435.50" y2="263.48" stroke="#2fa0b2" stroke-width="0.9" stroke-linecap="butt"/>
<line x1="398.75" y1="253.37" x2="435.50" y2="262.62" stroke="#2fa0b2" stroke-width="0.9" stroke-linecap="butt"/>
<line x1="398.75" y1="226.54" x2="435.50" y2="262.34" stroke="#2fa0b2" stroke-width="0.9" stroke-linecap="butt"/>
<line x1="398.75" y1="242.84" x2="435.50" y2="262.09" stroke="#2fa0b2" stroke-width="0.9" stroke-linecap="butt"/>
<line x1="398.75" y1="219.35" x2="435.50" y2="260.90" stroke="#2fa0b2" stroke-width="0.9" stroke-linecap="butt"/>
<line x1="398.75" y1="239.42" x2="435.50" y2="259.56" stroke="#2fa0b2" stroke-width="0.9" stroke-linecap="butt"/>
<line x1="398.75" y1="241.95" x2="435.50" y2="259.03" stroke="#2fa0b2" stroke-width="0.9" stroke-linecap="butt"/>
<line x1="398.75" y1="226.51" x2="435.50" y2="257.29" stroke="#2fa0b2" stroke-width="0.9" stroke-linecap="butt"/>
<line x1="398.75" y1="231.48" x2="435.50" y2="256.35" stroke="#2fa0b2" stroke-width="0.9" stroke-linecap="butt"/>
<line x1="398.75" y1="223.16" x2="435.50" y2="255.66" stroke="#2fa0b2" stroke-width="0.9" stroke-linecap="butt"/>
<line x1="398.75" y1="222.97" x2="435.50" y2="255.44" stroke="#2fa0b2" stroke-width="0.9" stroke-linecap="butt"/>
<line x1="398.75" y1="218.93" x2="435.50" y2="254.97" stroke="#2fa0b2" stroke-width="0.9" stroke-linecap="butt"/>
<line x1="398.75" y1="228.79" x2="435.50" y2="253.28" stroke="#2fa0b2" stroke-width="0.9" stroke-linecap="butt"/>
<line x1="398.75" y1="224.55" x2="435.50" y2="252.99" stroke="#2fa0b2" stroke-width="0.9" stroke-linecap="butt"/>
<line x1="398.75" y1="220.60" x2="435.50" y2="251.13" stroke="#2fa0b2" stroke-width="0.9" stroke-linecap="butt"/>
<line x1="398.75" y1="250.24" x2="435.50" y2="251.04" stroke="#2fa0b2" stroke-width="0.9" stroke-linecap="butt"/>
<line x1="398.75" y1="217.18" x2="435.50" y2="249.78" stroke="#2fa0b2" stroke-width="0.9" stroke-linecap="butt"/>
<line x1="398.75" y1="240.57" x2="435.50" y2="248.88" stroke="#2fa0b2" stroke-width="0.9" stroke-linecap="butt"/>
<line x1="398.75" y1="230.41" x2="435.50" y2="248.47" stroke="#2fa0b2" stroke-width="0.9" stroke-linecap="butt"/>
<line x1="398.75" y1="225.69" x2="435.50" y2="247.95" stroke="#2fa0b2" stroke-width="0.9" stroke-linecap="butt"/>
<line x1="398.75" y1="217.10" x2="435.50" y2="246.24" stroke="#2fa0b2" stroke-width="0.9" stroke-linecap="butt"/>
<line x1="398.75" y1="221.20" x2="435.50" y2="246.02" stroke="#2fa0b2" stroke-width="0.9" stroke-linecap="butt"/>
<line x1="398.75" y1="224.08" x2="435.50" y2="245.65" stroke="#2fa0b2" stroke-width="0.9" stroke-linecap="butt"/>
<line x1="398.75" y1="218.45" x2="435.50" y2="244.35" stroke="#2fa0b2" stroke-width="0.9" stroke-linecap="butt"/>
<line x1="398.75" y1="213.24" x2="435.50" y2="242.02" stroke="#2fa0b2" stroke-width="0.9" stroke-linecap="butt"/>
<line x1="398.75" y1="233.04" x2="435.50" y2="241.23" stroke="#2fa0b2" stroke-width="0.9" stroke-linecap="butt"/>
<line x1="398.75" y1="214.60" x2="435.50" y2="240.10" stroke="#2fa0b2" stroke-width="0.9" stroke-linecap="butt"/>
<line x1="398.75" y1="216.82" x2="435.50" y2="238.42" stroke="#2fa0b2" stroke-width="0.9" stroke-linecap="butt"/>
<line x1="398.75" y1="240.80" x2="435.50" y2="237.90" stroke="#2fa0b2" stroke-width="0.9" stroke-linecap="butt"/>
<line x1="398.75" y1="215.96" x2="435.50" y2="236.13" stroke="#2fa0b2" stroke-width="0.9" stroke-linecap="butt"/>
<line x1="398.75" y1="220.93" x2="435.50" y2="234.59" stroke="#2fa0b2" stroke-width="0.9" stroke-linecap="butt"/>
<line x1="398.75" y1="220.58" x2="435.50" y2="234.26" stroke="#2fa0b2" stroke-width="0.9" stroke-linecap="butt"/>
<line x1="398.75" y1="204.70" x2="435.50" y2="229.16" stroke="#2fa0b2" stroke-width="0.9" stroke-linecap="butt"/>
<line x1="398.75" y1="223.38" x2="435.50" y2="228.78" stroke="#2fa0b2" stroke-width="0.9" stroke-linecap="butt"/>
<line x1="398.75" y1="205.08" x2="435.50" y2="223.14" stroke="#2fa0b2" stroke-width="0.9" stroke-linecap="butt"/>
<line x1="398.75" y1="204.31" x2="435.50" y2="210.33" stroke="#2fa0b2" stroke-width="0.9" stroke-linecap="butt"/>
<circle cx="398.75" cy="263.15" r="1.35" fill="#6a78bc" stroke="#4858a6" stroke-width="0.9"/>
<circle cx="398.75" cy="269.17" r="1.35" fill="#6a78bc" stroke="#4858a6" stroke-width="0.9"/>
<circle cx="398.75" cy="267.62" r="1.35" fill="#6a78bc" stroke="#4858a6" stroke-width="0.9"/>
<circle cx="398.75" cy="239.60" r="1.35" fill="#6a78bc" stroke="#4858a6" stroke-width="0.9"/>
<circle cx="398.75" cy="248.86" r="1.35" fill="#6a78bc" stroke="#4858a6" stroke-width="0.9"/>
<circle cx="398.75" cy="231.40" r="1.35" fill="#6a78bc" stroke="#4858a6" stroke-width="0.9"/>
<circle cx="398.75" cy="247.75" r="1.35" fill="#6a78bc" stroke="#4858a6" stroke-width="0.9"/>
<circle cx="398.75" cy="246.48" r="1.35" fill="#6a78bc" stroke="#4858a6" stroke-width="0.9"/>
<circle cx="398.75" cy="261.79" r="1.35" fill="#6a78bc" stroke="#4858a6" stroke-width="0.9"/>
<circle cx="398.75" cy="245.02" r="1.35" fill="#6a78bc" stroke="#4858a6" stroke-width="0.9"/>
<circle cx="398.75" cy="247.90" r="1.35" fill="#6a78bc" stroke="#4858a6" stroke-width="0.9"/>
<circle cx="398.75" cy="238.12" r="1.35" fill="#6a78bc" stroke="#4858a6" stroke-width="0.9"/>
<circle cx="398.75" cy="251.58" r="1.35" fill="#6a78bc" stroke="#4858a6" stroke-width="0.9"/>
<circle cx="398.75" cy="237.28" r="1.35" fill="#6a78bc" stroke="#4858a6" stroke-width="0.9"/>
<circle cx="398.75" cy="227.90" r="1.35" fill="#6a78bc" stroke="#4858a6" stroke-width="0.9"/>
<circle cx="398.75" cy="244.20" r="1.35" fill="#6a78bc" stroke="#4858a6" stroke-width="0.9"/>
<circle cx="398.75" cy="253.37" r="1.35" fill="#6a78bc" stroke="#4858a6" stroke-width="0.9"/>
<circle cx="398.75" cy="226.54" r="1.35" fill="#6a78bc" stroke="#4858a6" stroke-width="0.9"/>
<circle cx="398.75" cy="242.84" r="1.35" fill="#6a78bc" stroke="#4858a6" stroke-width="0.9"/>
<circle cx="398.75" cy="219.35" r="1.35" fill="#6a78bc" stroke="#4858a6" stroke-width="0.9"/>
<circle cx="398.75" cy="239.42" r="1.35" fill="#6a78bc" stroke="#4858a6" stroke-width="0.9"/>
<circle cx="398.75" cy="241.95" r="1.35" fill="#6a78bc" stroke="#4858a6" stroke-width="0.9"/>
<circle cx="398.75" cy="226.51" r="1.35" fill="#6a78bc" stroke="#4858a6" stroke-width="0.9"/>
<circle cx="398.75" cy="231.48" r="1.35" fill="#6a78bc" stroke="#4858a6" stroke-width="0.9"/>
<circle cx="398.75" cy="223.16" r="1.35" fill="#6a78bc" stroke="#4858a6" stroke-width="0.9"/>
<circle cx="398.75" cy="222.97" r="1.35" fill="#6a78bc" stroke="#4858a6" stroke-width="0.9"/>
<circle cx="398.75" cy="218.93" r="1.35" fill="#6a78bc" stroke="#4858a6" stroke-width="0.9"/>
<circle cx="398.75" cy="228.79" r="1.35" fill="#6a78bc" stroke="#4858a6" stroke-width="0.9"/>
<circle cx="398.75" cy="224.55" r="1.35" fill="#6a78bc" stroke="#4858a6" stroke-width="0.9"/>
<circle cx="398.75" cy="220.60" r="1.35" fill="#6a78bc" stroke="#4858a6" stroke-width="0.9"/>
<circle cx="398.75" cy="250.24" r="1.35" fill="#6a78bc" stroke="#4858a6" stroke-width="0.9"/>
<circle cx="398.75" cy="217.18" r="1.35" fill="#6a78bc" stroke="#4858a6" stroke-width="0.9"/>
<circle cx="398.75" cy="240.57" r="1.35" fill="#6a78bc" stroke="#4858a6" stroke-width="0.9"/>
<circle cx="398.75" cy="230.41" r="1.35" fill="#6a78bc" stroke="#4858a6" stroke-width="0.9"/>
<circle cx="398.75" cy="225.69" r="1.35" fill="#6a78bc" stroke="#4858a6" stroke-width="0.9"/>
<circle cx="398.75" cy="217.10" r="1.35" fill="#6a78bc" stroke="#4858a6" stroke-width="0.9"/>
<circle cx="398.75" cy="221.20" r="1.35" fill="#6a78bc" stroke="#4858a6" stroke-width="0.9"/>
<circle cx="398.75" cy="224.08" r="1.35" fill="#6a78bc" stroke="#4858a6" stroke-width="0.9"/>
<circle cx="398.75" cy="218.45" r="1.35" fill="#6a78bc" stroke="#4858a6" stroke-width="0.9"/>
<circle cx="398.75" cy="213.24" r="1.35" fill="#6a78bc" stroke="#4858a6" stroke-width="0.9"/>
<circle cx="398.75" cy="233.04" r="1.35" fill="#6a78bc" stroke="#4858a6" stroke-width="0.9"/>
<circle cx="398.75" cy="214.60" r="1.35" fill="#6a78bc" stroke="#4858a6" stroke-width="0.9"/>
<circle cx="398.75" cy="216.82" r="1.35" fill="#6a78bc" stroke="#4858a6" stroke-width="0.9"/>
<circle cx="398.75" cy="240.80" r="1.35" fill="#6a78bc" stroke="#4858a6" stroke-width="0.9"/>
<circle cx="398.75" cy="215.96" r="1.35" fill="#6a78bc" stroke="#4858a6" stroke-width="0.9"/>
<circle cx="398.75" cy="220.93" r="1.35" fill="#6a78bc" stroke="#4858a6" stroke-width="0.9"/>
<circle cx="398.75" cy="220.58" r="1.35" fill="#6a78bc" stroke="#4858a6" stroke-width="0.9"/>
<circle cx="398.75" cy="204.70" r="1.35" fill="#6a78bc" stroke="#4858a6" stroke-width="0.9"/>
<circle cx="398.75" cy="223.38" r="1.35" fill="#6a78bc" stroke="#4858a6" stroke-width="0.9"/>
<circle cx="398.75" cy="205.08" r="1.35" fill="#6a78bc" stroke="#4858a6" stroke-width="0.9"/>
<circle cx="398.75" cy="204.31" r="1.35" fill="#6a78bc" stroke="#4858a6" stroke-width="0.9"/>
<circle cx="435.50" cy="279.27" r="1.35" fill="#6a5890" stroke="#4b3a72" stroke-width="0.9"/>
<circle cx="435.50" cy="277.33" r="1.35" fill="#6a5890" stroke="#4b3a72" stroke-width="0.9"/>
<circle cx="435.50" cy="275.38" r="1.35" fill="#6a5890" stroke="#4b3a72" stroke-width="0.9"/>
<circle cx="435.50" cy="274.05" r="1.35" fill="#6a5890" stroke="#4b3a72" stroke-width="0.9"/>
<circle cx="435.50" cy="274.01" r="1.35" fill="#6a5890" stroke="#4b3a72" stroke-width="0.9"/>
<circle cx="435.50" cy="272.86" r="1.35" fill="#6a5890" stroke="#4b3a72" stroke-width="0.9"/>
<circle cx="435.50" cy="271.76" r="1.35" fill="#6a5890" stroke="#4b3a72" stroke-width="0.9"/>
<circle cx="435.50" cy="271.25" r="1.35" fill="#6a5890" stroke="#4b3a72" stroke-width="0.9"/>
<circle cx="435.50" cy="270.72" r="1.35" fill="#6a5890" stroke="#4b3a72" stroke-width="0.9"/>
<circle cx="435.50" cy="269.74" r="1.35" fill="#6a5890" stroke="#4b3a72" stroke-width="0.9"/>
<circle cx="435.50" cy="268.56" r="1.35" fill="#6a5890" stroke="#4b3a72" stroke-width="0.9"/>
<circle cx="435.50" cy="268.17" r="1.35" fill="#6a5890" stroke="#4b3a72" stroke-width="0.9"/>
<circle cx="435.50" cy="267.11" r="1.35" fill="#6a5890" stroke="#4b3a72" stroke-width="0.9"/>
<circle cx="435.50" cy="265.05" r="1.35" fill="#6a5890" stroke="#4b3a72" stroke-width="0.9"/>
<circle cx="435.50" cy="264.59" r="1.35" fill="#6a5890" stroke="#4b3a72" stroke-width="0.9"/>
<circle cx="435.50" cy="263.48" r="1.35" fill="#6a5890" stroke="#4b3a72" stroke-width="0.9"/>
<circle cx="435.50" cy="262.62" r="1.35" fill="#6a5890" stroke="#4b3a72" stroke-width="0.9"/>
<circle cx="435.50" cy="262.34" r="1.35" fill="#6a5890" stroke="#4b3a72" stroke-width="0.9"/>
<circle cx="435.50" cy="262.09" r="1.35" fill="#6a5890" stroke="#4b3a72" stroke-width="0.9"/>
<circle cx="435.50" cy="260.90" r="1.35" fill="#6a5890" stroke="#4b3a72" stroke-width="0.9"/>
<circle cx="435.50" cy="259.56" r="1.35" fill="#6a5890" stroke="#4b3a72" stroke-width="0.9"/>
<circle cx="435.50" cy="259.03" r="1.35" fill="#6a5890" stroke="#4b3a72" stroke-width="0.9"/>
<circle cx="435.50" cy="257.29" r="1.35" fill="#6a5890" stroke="#4b3a72" stroke-width="0.9"/>
<circle cx="435.50" cy="256.35" r="1.35" fill="#6a5890" stroke="#4b3a72" stroke-width="0.9"/>
<circle cx="435.50" cy="255.66" r="1.35" fill="#6a5890" stroke="#4b3a72" stroke-width="0.9"/>
<circle cx="435.50" cy="255.44" r="1.35" fill="#6a5890" stroke="#4b3a72" stroke-width="0.9"/>
<circle cx="435.50" cy="254.97" r="1.35" fill="#6a5890" stroke="#4b3a72" stroke-width="0.9"/>
<circle cx="435.50" cy="253.28" r="1.35" fill="#6a5890" stroke="#4b3a72" stroke-width="0.9"/>
<circle cx="435.50" cy="252.99" r="1.35" fill="#6a5890" stroke="#4b3a72" stroke-width="0.9"/>
<circle cx="435.50" cy="251.13" r="1.35" fill="#6a5890" stroke="#4b3a72" stroke-width="0.9"/>
<circle cx="435.50" cy="251.04" r="1.35" fill="#6a5890" stroke="#4b3a72" stroke-width="0.9"/>
<circle cx="435.50" cy="249.78" r="1.35" fill="#6a5890" stroke="#4b3a72" stroke-width="0.9"/>
<circle cx="435.50" cy="248.88" r="1.35" fill="#6a5890" stroke="#4b3a72" stroke-width="0.9"/>
<circle cx="435.50" cy="248.47" r="1.35" fill="#6a5890" stroke="#4b3a72" stroke-width="0.9"/>
<circle cx="435.50" cy="247.95" r="1.35" fill="#6a5890" stroke="#4b3a72" stroke-width="0.9"/>
<circle cx="435.50" cy="246.24" r="1.35" fill="#6a5890" stroke="#4b3a72" stroke-width="0.9"/>
<circle cx="435.50" cy="246.02" r="1.35" fill="#6a5890" stroke="#4b3a72" stroke-width="0.9"/>
<circle cx="435.50" cy="245.65" r="1.35" fill="#6a5890" stroke="#4b3a72" stroke-width="0.9"/>
<circle cx="435.50" cy="244.35" r="1.35" fill="#6a5890" stroke="#4b3a72" stroke-width="0.9"/>
<circle cx="435.50" cy="242.02" r="1.35" fill="#6a5890" stroke="#4b3a72" stroke-width="0.9"/>
<circle cx="435.50" cy="241.23" r="1.35" fill="#6a5890" stroke="#4b3a72" stroke-width="0.9"/>
<circle cx="435.50" cy="240.10" r="1.35" fill="#6a5890" stroke="#4b3a72" stroke-width="0.9"/>
<circle cx="435.50" cy="238.42" r="1.35" fill="#6a5890" stroke="#4b3a72" stroke-width="0.9"/>
<circle cx="435.50" cy="237.90" r="1.35" fill="#6a5890" stroke="#4b3a72" stroke-width="0.9"/>
<circle cx="435.50" cy="236.13" r="1.35" fill="#6a5890" stroke="#4b3a72" stroke-width="0.9"/>
<circle cx="435.50" cy="234.59" r="1.35" fill="#6a5890" stroke="#4b3a72" stroke-width="0.9"/>
<circle cx="435.50" cy="234.26" r="1.35" fill="#6a5890" stroke="#4b3a72" stroke-width="0.9"/>
<circle cx="435.50" cy="229.16" r="1.35" fill="#6a5890" stroke="#4b3a72" stroke-width="0.9"/>
<circle cx="435.50" cy="228.78" r="1.35" fill="#6a5890" stroke="#4b3a72" stroke-width="0.9"/>
<circle cx="435.50" cy="223.14" r="1.35" fill="#6a5890" stroke="#4b3a72" stroke-width="0.9"/>
<circle cx="435.50" cy="210.33" r="1.35" fill="#6a5890" stroke="#4b3a72" stroke-width="0.9"/>
<polyline points="398.70,199.80 398.70,191.40 435.70,191.40 435.70,199.80" fill="none" stroke="#000" stroke-width="1.7"/>
<polygon points="410.55,186.65 410.96,187.68 412.07,187.76 411.22,188.47 411.49,189.54 410.55,188.95 409.61,189.54 409.88,188.47 409.03,187.76 410.14,187.68" fill="#333"/>
<polygon points="414.65,186.65 415.06,187.68 416.17,187.76 415.32,188.47 415.59,189.54 414.65,188.95 413.71,189.54 413.98,188.47 413.13,187.76 414.24,187.68" fill="#333"/>
<polygon points="418.75,186.65 419.16,187.68 420.27,187.76 419.42,188.47 419.69,189.54 418.75,188.95 417.81,189.54 418.08,188.47 417.23,187.76 418.34,187.68" fill="#333"/>
<polygon points="422.85,186.65 423.26,187.68 424.37,187.76 423.52,188.47 423.79,189.54 422.85,188.95 421.91,189.54 422.18,188.47 421.33,187.76 422.44,187.68" fill="#333"/>
<text x="466.00" y="170.50" font-size="14" text-anchor="start" fill="#111" stroke="#111" stroke-width="0.22" font-weight="bold" >H</text>
<path d="M544.75,173.82 A64.2,63.430 0 1 1 496.00,195.98 L520.26,216.52 A32.25,31.863 0 1 0 544.75,205.39 Z" fill="#769bc9" stroke="#000" stroke-width="1.35" stroke-linejoin="miter"/>
<path d="M493.20,189.89 A64.2,63.430 0 0 1 541.95,167.73 L541.95,199.30 A32.25,31.863 0 0 0 517.46,210.43 Z" fill="#9182b9" stroke="#000" stroke-width="1.35" stroke-linejoin="miter"/>
<text x="543.20" y="241.00" font-size="10.3" text-anchor="middle" fill="#333" stroke="#333" stroke-width="0.22" font-weight="normal" >Total=51</text>
<rect x="626.6" y="226.10" width="12.7" height="5.4" fill="#769bc9" stroke="#000" stroke-width="1.2"/>
<text x="647.20" y="232.30" font-size="10" text-anchor="start" fill="#3a3a3a" stroke="#3a3a3a" stroke-width="0.22" font-weight="normal" >LSSTM</text>
<rect x="626.6" y="248.70" width="12.7" height="5.4" fill="#9182b9" stroke="#000" stroke-width="1.2"/>
<text x="647.20" y="254.90" font-size="10" text-anchor="start" fill="#3a3a3a" stroke="#3a3a3a" stroke-width="0.22" font-weight="normal" >STM</text>
</svg>
</body></html>
